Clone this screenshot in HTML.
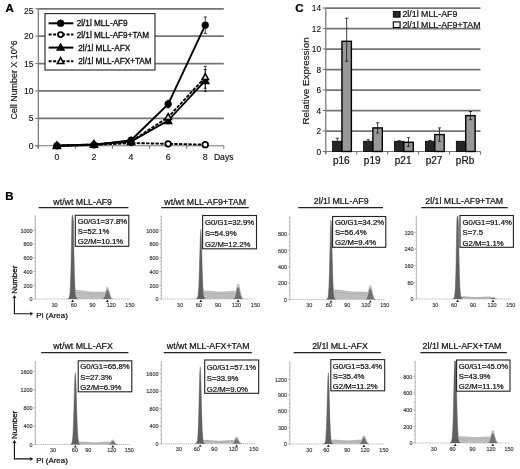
<!DOCTYPE html>
<html><head><meta charset="utf-8"><title>Figure</title>
<style>
html,body{margin:0;padding:0;background:#fff;}
svg{display:block;font-family:"Liberation Sans", Arial, sans-serif;will-change:transform;}
</style></head><body>
<svg width="520" height="469" viewBox="0 0 520 469">
<defs>
<pattern id="hatch" width="1.6" height="1.6" patternUnits="userSpaceOnUse">
<rect width="1.6" height="1.6" fill="#c9c9c9"/>
<rect width="0.7" height="0.7" fill="#a8a8a8"/>
</pattern>
</defs>
<rect width="520" height="469" fill="#fff"/>
<text x="5.60" y="12.20" font-size="11.5" text-anchor="start" font-weight="bold" fill="#000" stroke="#000" stroke-width="0.22" >A</text>
<line x1="38.30" y1="118.35" x2="223.80" y2="118.35" stroke="#747474" stroke-width="1.75" />
<line x1="38.30" y1="90.95" x2="223.80" y2="90.95" stroke="#747474" stroke-width="1.75" />
<line x1="38.30" y1="63.55" x2="223.80" y2="63.55" stroke="#747474" stroke-width="1.75" />
<line x1="38.30" y1="36.15" x2="223.80" y2="36.15" stroke="#747474" stroke-width="1.75" />
<line x1="38.30" y1="8.75" x2="223.80" y2="8.75" stroke="#747474" stroke-width="1.75" />
<line x1="38.30" y1="8.75" x2="38.30" y2="148.25" stroke="#747474" stroke-width="1.2" />
<line x1="35.30" y1="145.75" x2="223.80" y2="145.75" stroke="#747474" stroke-width="1.2" />
<line x1="35.30" y1="145.75" x2="38.30" y2="145.75" stroke="#747474" stroke-width="1.1" />
<text x="33.60" y="148.85" font-size="8.6" text-anchor="end" font-weight="normal" fill="#111" stroke="#111" stroke-width="0.12" >0</text>
<line x1="35.30" y1="118.35" x2="38.30" y2="118.35" stroke="#747474" stroke-width="1.1" />
<text x="33.60" y="121.45" font-size="8.6" text-anchor="end" font-weight="normal" fill="#111" stroke="#111" stroke-width="0.12" >5</text>
<line x1="35.30" y1="90.95" x2="38.30" y2="90.95" stroke="#747474" stroke-width="1.1" />
<text x="33.60" y="94.05" font-size="8.6" text-anchor="end" font-weight="normal" fill="#111" stroke="#111" stroke-width="0.12" >10</text>
<line x1="35.30" y1="63.55" x2="38.30" y2="63.55" stroke="#747474" stroke-width="1.1" />
<text x="33.60" y="66.65" font-size="8.6" text-anchor="end" font-weight="normal" fill="#111" stroke="#111" stroke-width="0.12" >15</text>
<line x1="35.30" y1="36.15" x2="38.30" y2="36.15" stroke="#747474" stroke-width="1.1" />
<text x="33.60" y="39.25" font-size="8.6" text-anchor="end" font-weight="normal" fill="#111" stroke="#111" stroke-width="0.12" >20</text>
<line x1="35.30" y1="8.75" x2="38.30" y2="8.75" stroke="#747474" stroke-width="1.1" />
<text x="33.60" y="13.85" font-size="8.6" text-anchor="end" font-weight="normal" fill="#111" stroke="#111" stroke-width="0.12" >25</text>
<line x1="38.30" y1="145.75" x2="38.30" y2="148.75" stroke="#747474" stroke-width="1.1" />
<line x1="75.40" y1="145.75" x2="75.40" y2="148.75" stroke="#747474" stroke-width="1.1" />
<line x1="112.50" y1="145.75" x2="112.50" y2="148.75" stroke="#747474" stroke-width="1.1" />
<line x1="149.60" y1="145.75" x2="149.60" y2="148.75" stroke="#747474" stroke-width="1.1" />
<line x1="186.70" y1="145.75" x2="186.70" y2="148.75" stroke="#747474" stroke-width="1.1" />
<line x1="223.80" y1="145.75" x2="223.80" y2="148.75" stroke="#747474" stroke-width="1.1" />
<text x="56.85" y="160.30" font-size="8.8" text-anchor="middle" font-weight="normal" fill="#111" stroke="#111" stroke-width="0.12" >0</text>
<text x="93.95" y="160.30" font-size="8.8" text-anchor="middle" font-weight="normal" fill="#111" stroke="#111" stroke-width="0.12" >2</text>
<text x="131.05" y="160.30" font-size="8.8" text-anchor="middle" font-weight="normal" fill="#111" stroke="#111" stroke-width="0.12" >4</text>
<text x="168.15" y="160.30" font-size="8.8" text-anchor="middle" font-weight="normal" fill="#111" stroke="#111" stroke-width="0.12" >6</text>
<text x="205.25" y="160.30" font-size="8.8" text-anchor="middle" font-weight="normal" fill="#111" stroke="#111" stroke-width="0.12" >8</text>
<text x="213.90" y="160.30" font-size="8.6" text-anchor="start" font-weight="normal" fill="#111" stroke="#111" stroke-width="0.15" >Days</text>
<text transform="translate(17.4,79.9) rotate(-90)" font-size="8.9" text-anchor="middle" fill="#111" stroke="#111" stroke-width="0.15">Cell Number X 10^6</text>
<line x1="131.05" y1="141.37" x2="131.05" y2="139.17" stroke="#111" stroke-width="0.8" />
<line x1="129.45" y1="141.37" x2="132.65" y2="141.37" stroke="#111" stroke-width="0.8" />
<line x1="129.45" y1="139.17" x2="132.65" y2="139.17" stroke="#111" stroke-width="0.8" />
<line x1="168.15" y1="107.94" x2="168.15" y2="100.27" stroke="#111" stroke-width="0.8" />
<line x1="166.55" y1="107.94" x2="169.75" y2="107.94" stroke="#111" stroke-width="0.8" />
<line x1="166.55" y1="100.27" x2="169.75" y2="100.27" stroke="#111" stroke-width="0.8" />
<line x1="205.25" y1="33.41" x2="205.25" y2="16.97" stroke="#111" stroke-width="0.8" />
<line x1="203.65" y1="33.41" x2="206.85" y2="33.41" stroke="#111" stroke-width="0.8" />
<line x1="203.65" y1="16.97" x2="206.85" y2="16.97" stroke="#111" stroke-width="0.8" />
<line x1="131.05" y1="142.19" x2="131.05" y2="141.09" stroke="#111" stroke-width="0.8" />
<line x1="129.45" y1="142.19" x2="132.65" y2="142.19" stroke="#111" stroke-width="0.8" />
<line x1="129.45" y1="141.09" x2="132.65" y2="141.09" stroke="#111" stroke-width="0.8" />
<line x1="168.15" y1="123.83" x2="168.15" y2="117.25" stroke="#111" stroke-width="0.8" />
<line x1="166.55" y1="123.83" x2="169.75" y2="123.83" stroke="#111" stroke-width="0.8" />
<line x1="166.55" y1="117.25" x2="169.75" y2="117.25" stroke="#111" stroke-width="0.8" />
<line x1="205.25" y1="91.50" x2="205.25" y2="69.58" stroke="#111" stroke-width="0.8" />
<line x1="203.65" y1="91.50" x2="206.85" y2="91.50" stroke="#111" stroke-width="0.8" />
<line x1="203.65" y1="69.58" x2="206.85" y2="69.58" stroke="#111" stroke-width="0.8" />
<line x1="131.05" y1="141.91" x2="131.05" y2="140.82" stroke="#111" stroke-width="0.8" />
<line x1="129.45" y1="141.91" x2="132.65" y2="141.91" stroke="#111" stroke-width="0.8" />
<line x1="129.45" y1="140.82" x2="132.65" y2="140.82" stroke="#111" stroke-width="0.8" />
<line x1="168.15" y1="119.99" x2="168.15" y2="114.51" stroke="#111" stroke-width="0.8" />
<line x1="166.55" y1="119.99" x2="169.75" y2="119.99" stroke="#111" stroke-width="0.8" />
<line x1="166.55" y1="114.51" x2="169.75" y2="114.51" stroke="#111" stroke-width="0.8" />
<line x1="205.25" y1="88.21" x2="205.25" y2="66.29" stroke="#111" stroke-width="0.8" />
<line x1="203.65" y1="88.21" x2="206.85" y2="88.21" stroke="#111" stroke-width="0.8" />
<line x1="203.65" y1="66.29" x2="206.85" y2="66.29" stroke="#111" stroke-width="0.8" />
<polyline points="56.85,145.75 93.95,144.93 131.05,143.01 168.15,143.83 205.25,144.65" fill="none" stroke="#000" stroke-width="1.9" stroke-dasharray="3.4 1.3"/>
<polyline points="56.85,145.75 93.95,144.38 131.05,141.64 168.15,120.54 205.25,80.54" fill="none" stroke="#000" stroke-width="1.8" />
<polyline points="56.85,145.75 93.95,144.38 131.05,141.37 168.15,117.25 205.25,77.25" fill="none" stroke="#000" stroke-width="1.9" stroke-dasharray="3.4 1.3"/>
<polyline points="56.85,145.75 93.95,144.93 131.05,140.27 168.15,104.10 205.25,25.19" fill="none" stroke="#000" stroke-width="1.9" />
<polygon points="56.85,142.05 53.15,148.71 60.55,148.71" fill="#000" stroke="#000" stroke-width="1.3" stroke-linejoin="miter"/>
<polygon points="93.95,140.68 90.25,147.34 97.65,147.34" fill="#000" stroke="#000" stroke-width="1.3" stroke-linejoin="miter"/>
<polygon points="131.05,137.94 127.35,144.60 134.75,144.60" fill="#000" stroke="#000" stroke-width="1.3" stroke-linejoin="miter"/>
<polygon points="168.15,116.84 164.45,123.50 171.85,123.50" fill="#000" stroke="#000" stroke-width="1.3" stroke-linejoin="miter"/>
<polygon points="205.25,76.84 201.55,83.50 208.95,83.50" fill="#000" stroke="#000" stroke-width="1.3" stroke-linejoin="miter"/>
<polygon points="56.85,142.05 53.55,147.99 60.15,147.99" fill="#000" stroke="#000" stroke-width="1.5" stroke-linejoin="miter"/>
<polygon points="93.95,140.68 90.65,146.62 97.25,146.62" fill="#000" stroke="#000" stroke-width="1.5" stroke-linejoin="miter"/>
<polygon points="131.05,137.67 127.75,143.61 134.35,143.61" fill="#000" stroke="#000" stroke-width="1.5" stroke-linejoin="miter"/>
<polygon points="168.15,113.55 164.85,119.49 171.45,119.49" fill="#d8d8d8" stroke="#000" stroke-width="1.5" stroke-linejoin="miter"/>
<polygon points="205.25,73.55 201.95,79.49 208.55,79.49" fill="#d8d8d8" stroke="#000" stroke-width="1.5" stroke-linejoin="miter"/>
<circle cx="56.85" cy="145.75" r="3.4" fill="#000" stroke="#000" stroke-width="0.5"/>
<circle cx="93.95" cy="144.93" r="3.4" fill="#000" stroke="#000" stroke-width="0.5"/>
<circle cx="131.05" cy="140.27" r="3.4" fill="#000" stroke="#000" stroke-width="0.5"/>
<circle cx="168.15" cy="104.10" r="3.4" fill="#000" stroke="#000" stroke-width="0.5"/>
<circle cx="205.25" cy="25.19" r="3.4" fill="#000" stroke="#000" stroke-width="0.5"/>
<circle cx="56.85" cy="145.75" r="2.8" fill="#000" stroke="#000" stroke-width="0.5"/>
<circle cx="93.95" cy="144.93" r="2.8" fill="#000" stroke="#000" stroke-width="0.5"/>
<circle cx="131.05" cy="143.01" r="2.8" fill="#000" stroke="#000" stroke-width="0.5"/>
<circle cx="168.15" cy="143.83" r="2.8" fill="#fff" stroke="#000" stroke-width="1.8"/>
<circle cx="205.25" cy="144.65" r="2.8" fill="#fff" stroke="#000" stroke-width="1.8"/>
<rect x="45" y="13.6" width="110" height="56.4" fill="#fff" stroke="#222" stroke-width="1.1"/>
<line x1="48.60" y1="23.30" x2="73.40" y2="23.30" stroke="#000" stroke-width="2.0" />
<circle cx="60.60" cy="23.30" r="3.5" fill="#000" stroke="#000" stroke-width="0.5"/>
<text x="76.70" y="26.30" font-size="8.2" text-anchor="start" font-weight="normal" fill="#111" stroke="#111" stroke-width="0.32" >2l/1l MLL-AF9</text>
<line x1="48.60" y1="34.60" x2="73.40" y2="34.60" stroke="#000" stroke-width="2.0" stroke-dasharray="3 1.5"/>
<circle cx="60.6" cy="34.6" r="2.6" fill="#fff" stroke="#000" stroke-width="1.7"/>
<text x="76.70" y="37.60" font-size="8.2" text-anchor="start" font-weight="normal" fill="#111" stroke="#111" stroke-width="0.32" >2l/1l MLL-AF9+TAM</text>
<line x1="48.60" y1="47.60" x2="73.40" y2="47.60" stroke="#000" stroke-width="2.0" />
<polygon points="60.60,43.80 57.10,50.10 64.10,50.10" fill="#000" stroke="#000" stroke-width="1.3" stroke-linejoin="miter"/>
<text x="78.30" y="50.60" font-size="8.2" text-anchor="start" font-weight="normal" fill="#111" stroke="#111" stroke-width="0.32" >2l/1l MLL-AFX</text>
<line x1="48.60" y1="61.20" x2="73.40" y2="61.20" stroke="#000" stroke-width="2.0" stroke-dasharray="3 1.5"/>
<polygon points="60.60,57.70 57.40,63.46 63.80,63.46" fill="#fff" stroke="#000" stroke-width="1.6" stroke-linejoin="miter"/>
<text x="78.30" y="64.20" font-size="8.2" text-anchor="start" font-weight="normal" fill="#111" stroke="#111" stroke-width="0.32" >2l/1l MLL-AFX+TAM</text>
<text x="295.20" y="12.20" font-size="11.5" text-anchor="start" font-weight="bold" fill="#000" stroke="#000" stroke-width="0.22" >C</text>
<line x1="325.80" y1="131.00" x2="480.50" y2="131.00" stroke="#747474" stroke-width="1.75" />
<line x1="325.80" y1="110.50" x2="480.50" y2="110.50" stroke="#747474" stroke-width="1.75" />
<line x1="325.80" y1="90.00" x2="480.50" y2="90.00" stroke="#747474" stroke-width="1.75" />
<line x1="325.80" y1="69.50" x2="480.50" y2="69.50" stroke="#747474" stroke-width="1.75" />
<line x1="325.80" y1="49.00" x2="480.50" y2="49.00" stroke="#747474" stroke-width="1.75" />
<line x1="325.80" y1="28.50" x2="480.50" y2="28.50" stroke="#747474" stroke-width="1.75" />
<line x1="325.80" y1="8.00" x2="480.50" y2="8.00" stroke="#747474" stroke-width="1.75" />
<line x1="325.80" y1="8.00" x2="325.80" y2="154.00" stroke="#747474" stroke-width="1.2" />
<line x1="322.80" y1="151.50" x2="480.50" y2="151.50" stroke="#747474" stroke-width="1.2" />
<line x1="322.80" y1="151.50" x2="325.80" y2="151.50" stroke="#747474" stroke-width="1.1" />
<text x="321.00" y="154.50" font-size="8.3" text-anchor="end" font-weight="normal" fill="#111" stroke="#111" stroke-width="0.12" >0</text>
<line x1="322.80" y1="131.00" x2="325.80" y2="131.00" stroke="#747474" stroke-width="1.1" />
<text x="321.00" y="134.00" font-size="8.3" text-anchor="end" font-weight="normal" fill="#111" stroke="#111" stroke-width="0.12" >2</text>
<line x1="322.80" y1="110.50" x2="325.80" y2="110.50" stroke="#747474" stroke-width="1.1" />
<text x="321.00" y="113.50" font-size="8.3" text-anchor="end" font-weight="normal" fill="#111" stroke="#111" stroke-width="0.12" >4</text>
<line x1="322.80" y1="90.00" x2="325.80" y2="90.00" stroke="#747474" stroke-width="1.1" />
<text x="321.00" y="93.00" font-size="8.3" text-anchor="end" font-weight="normal" fill="#111" stroke="#111" stroke-width="0.12" >6</text>
<line x1="322.80" y1="69.50" x2="325.80" y2="69.50" stroke="#747474" stroke-width="1.1" />
<text x="321.00" y="72.50" font-size="8.3" text-anchor="end" font-weight="normal" fill="#111" stroke="#111" stroke-width="0.12" >8</text>
<line x1="322.80" y1="49.00" x2="325.80" y2="49.00" stroke="#747474" stroke-width="1.1" />
<text x="321.00" y="52.00" font-size="8.3" text-anchor="end" font-weight="normal" fill="#111" stroke="#111" stroke-width="0.12" >10</text>
<line x1="322.80" y1="28.50" x2="325.80" y2="28.50" stroke="#747474" stroke-width="1.1" />
<text x="321.00" y="31.50" font-size="8.3" text-anchor="end" font-weight="normal" fill="#111" stroke="#111" stroke-width="0.12" >12</text>
<line x1="322.80" y1="8.00" x2="325.80" y2="8.00" stroke="#747474" stroke-width="1.1" />
<text x="321.00" y="11.00" font-size="8.3" text-anchor="end" font-weight="normal" fill="#111" stroke="#111" stroke-width="0.12" >14</text>
<line x1="325.80" y1="151.50" x2="325.80" y2="154.50" stroke="#747474" stroke-width="1.1" />
<line x1="356.74" y1="151.50" x2="356.74" y2="154.50" stroke="#747474" stroke-width="1.1" />
<line x1="387.68" y1="151.50" x2="387.68" y2="154.50" stroke="#747474" stroke-width="1.1" />
<line x1="418.62" y1="151.50" x2="418.62" y2="154.50" stroke="#747474" stroke-width="1.1" />
<line x1="449.56" y1="151.50" x2="449.56" y2="154.50" stroke="#747474" stroke-width="1.1" />
<line x1="480.50" y1="151.50" x2="480.50" y2="154.50" stroke="#747474" stroke-width="1.1" />
<rect x="332.57" y="141.25" width="9.4" height="10.25" fill="#262626" stroke="#000" stroke-width="0.8"/>
<rect x="341.97" y="41.31" width="9.4" height="110.19" fill="#999" stroke="#000" stroke-width="1.4"/>
<line x1="346.67" y1="61.30" x2="346.67" y2="18.25" stroke="#111" stroke-width="0.8" />
<line x1="345.07" y1="61.30" x2="348.27" y2="61.30" stroke="#111" stroke-width="0.8" />
<line x1="345.07" y1="18.25" x2="348.27" y2="18.25" stroke="#111" stroke-width="0.8" />
<line x1="337.27" y1="141.25" x2="337.27" y2="138.18" stroke="#111" stroke-width="0.8" />
<line x1="335.67" y1="138.18" x2="338.87" y2="138.18" stroke="#111" stroke-width="0.8" />
<text x="341.27" y="163.60" font-size="10" text-anchor="middle" font-weight="normal" fill="#111" stroke="#111" stroke-width="0.22" >p16</text>
<rect x="363.51" y="141.25" width="9.4" height="10.25" fill="#262626" stroke="#000" stroke-width="0.8"/>
<rect x="372.91" y="127.92" width="9.4" height="23.58" fill="#999" stroke="#000" stroke-width="1.4"/>
<line x1="377.61" y1="133.05" x2="377.61" y2="122.80" stroke="#111" stroke-width="0.8" />
<line x1="376.01" y1="133.05" x2="379.21" y2="133.05" stroke="#111" stroke-width="0.8" />
<line x1="376.01" y1="122.80" x2="379.21" y2="122.80" stroke="#111" stroke-width="0.8" />
<line x1="368.21" y1="141.25" x2="368.21" y2="139.71" stroke="#111" stroke-width="0.8" />
<line x1="366.61" y1="139.71" x2="369.81" y2="139.71" stroke="#111" stroke-width="0.8" />
<text x="372.21" y="163.60" font-size="10" text-anchor="middle" font-weight="normal" fill="#111" stroke="#111" stroke-width="0.22" >p19</text>
<rect x="394.45" y="141.25" width="9.4" height="10.25" fill="#262626" stroke="#000" stroke-width="0.8"/>
<rect x="403.85" y="142.28" width="9.4" height="9.22" fill="#999" stroke="#000" stroke-width="1.4"/>
<line x1="408.55" y1="146.38" x2="408.55" y2="137.66" stroke="#111" stroke-width="0.8" />
<line x1="406.95" y1="146.38" x2="410.15" y2="146.38" stroke="#111" stroke-width="0.8" />
<line x1="406.95" y1="137.66" x2="410.15" y2="137.66" stroke="#111" stroke-width="0.8" />
<line x1="399.15" y1="141.25" x2="399.15" y2="140.74" stroke="#111" stroke-width="0.8" />
<line x1="397.55" y1="140.74" x2="400.75" y2="140.74" stroke="#111" stroke-width="0.8" />
<text x="403.15" y="163.60" font-size="10" text-anchor="middle" font-weight="normal" fill="#111" stroke="#111" stroke-width="0.22" >p21</text>
<rect x="425.39" y="141.25" width="9.4" height="10.25" fill="#262626" stroke="#000" stroke-width="0.8"/>
<rect x="434.79" y="134.59" width="9.4" height="16.91" fill="#999" stroke="#000" stroke-width="1.4"/>
<line x1="439.49" y1="141.25" x2="439.49" y2="127.92" stroke="#111" stroke-width="0.8" />
<line x1="437.89" y1="141.25" x2="441.09" y2="141.25" stroke="#111" stroke-width="0.8" />
<line x1="437.89" y1="127.92" x2="441.09" y2="127.92" stroke="#111" stroke-width="0.8" />
<line x1="430.09" y1="141.25" x2="430.09" y2="140.43" stroke="#111" stroke-width="0.8" />
<line x1="428.49" y1="140.43" x2="431.69" y2="140.43" stroke="#111" stroke-width="0.8" />
<text x="434.09" y="163.60" font-size="10" text-anchor="middle" font-weight="normal" fill="#111" stroke="#111" stroke-width="0.22" >p27</text>
<rect x="456.33" y="141.25" width="9.4" height="10.25" fill="#262626" stroke="#000" stroke-width="0.8"/>
<rect x="465.73" y="115.62" width="9.4" height="35.88" fill="#999" stroke="#000" stroke-width="1.4"/>
<line x1="470.43" y1="119.72" x2="470.43" y2="111.53" stroke="#111" stroke-width="0.8" />
<line x1="468.83" y1="119.72" x2="472.03" y2="119.72" stroke="#111" stroke-width="0.8" />
<line x1="468.83" y1="111.53" x2="472.03" y2="111.53" stroke="#111" stroke-width="0.8" />
<text x="465.03" y="163.60" font-size="10" text-anchor="middle" font-weight="normal" fill="#111" stroke="#111" stroke-width="0.22" >pRb</text>
<text transform="translate(309.2,80.9) rotate(-90)" font-size="9.9" text-anchor="middle" fill="#111" stroke="#111" stroke-width="0.15">Relative Expression</text>
<rect x="393.3" y="11.4" width="6.8" height="5.8" fill="#262626" stroke="#000" stroke-width="0.9"/>
<rect x="393.3" y="21.9" width="6.8" height="5.6" fill="#f4f4f4" stroke="#000" stroke-width="1.1"/>
<text x="402.40" y="16.80" font-size="8.85" text-anchor="start" font-weight="normal" fill="#111" stroke="#111" stroke-width="0.22" >2l/1l MLL-AF9</text>
<text x="402.40" y="27.50" font-size="8.85" text-anchor="start" font-weight="normal" fill="#111" stroke="#111" stroke-width="0.22" >2l/1l MLL-AF9+TAM</text>
<text x="5.20" y="199.60" font-size="11.5" text-anchor="start" font-weight="bold" fill="#000" stroke="#000" stroke-width="0.22" >B</text>
<text x="82.70" y="204.60" font-size="8.8" text-anchor="middle" font-weight="normal" fill="#111" stroke="#111" stroke-width="0.22" >wt/wt MLL-AF9</text>
<line x1="38.60" y1="207.70" x2="128.40" y2="207.70" stroke="#222" stroke-width="1.2" />
<line x1="35.40" y1="215.40" x2="35.40" y2="299.00" stroke="#9a9a9a" stroke-width="0.7" />
<line x1="35.40" y1="299.00" x2="130.00" y2="299.00" stroke="#9a9a9a" stroke-width="0.7" stroke-dasharray="1.2 0.7"/>
<line x1="34.30" y1="299.00" x2="35.40" y2="299.00" stroke="#9a9a9a" stroke-width="0.5" />
<line x1="34.30" y1="295.56" x2="35.40" y2="295.56" stroke="#9a9a9a" stroke-width="0.5" />
<line x1="34.30" y1="292.12" x2="35.40" y2="292.12" stroke="#9a9a9a" stroke-width="0.5" />
<line x1="34.30" y1="288.69" x2="35.40" y2="288.69" stroke="#9a9a9a" stroke-width="0.5" />
<line x1="34.30" y1="285.25" x2="35.40" y2="285.25" stroke="#9a9a9a" stroke-width="0.5" />
<line x1="34.30" y1="281.81" x2="35.40" y2="281.81" stroke="#9a9a9a" stroke-width="0.5" />
<line x1="34.30" y1="278.38" x2="35.40" y2="278.38" stroke="#9a9a9a" stroke-width="0.5" />
<line x1="34.30" y1="274.94" x2="35.40" y2="274.94" stroke="#9a9a9a" stroke-width="0.5" />
<line x1="34.30" y1="271.50" x2="35.40" y2="271.50" stroke="#9a9a9a" stroke-width="0.5" />
<line x1="34.30" y1="268.06" x2="35.40" y2="268.06" stroke="#9a9a9a" stroke-width="0.5" />
<line x1="34.30" y1="264.62" x2="35.40" y2="264.62" stroke="#9a9a9a" stroke-width="0.5" />
<line x1="34.30" y1="261.19" x2="35.40" y2="261.19" stroke="#9a9a9a" stroke-width="0.5" />
<line x1="34.30" y1="257.75" x2="35.40" y2="257.75" stroke="#9a9a9a" stroke-width="0.5" />
<line x1="34.30" y1="254.31" x2="35.40" y2="254.31" stroke="#9a9a9a" stroke-width="0.5" />
<line x1="34.30" y1="250.88" x2="35.40" y2="250.88" stroke="#9a9a9a" stroke-width="0.5" />
<line x1="34.30" y1="247.44" x2="35.40" y2="247.44" stroke="#9a9a9a" stroke-width="0.5" />
<line x1="34.30" y1="244.00" x2="35.40" y2="244.00" stroke="#9a9a9a" stroke-width="0.5" />
<line x1="34.30" y1="240.56" x2="35.40" y2="240.56" stroke="#9a9a9a" stroke-width="0.5" />
<line x1="34.30" y1="237.12" x2="35.40" y2="237.12" stroke="#9a9a9a" stroke-width="0.5" />
<line x1="34.30" y1="233.69" x2="35.40" y2="233.69" stroke="#9a9a9a" stroke-width="0.5" />
<line x1="34.30" y1="230.25" x2="35.40" y2="230.25" stroke="#9a9a9a" stroke-width="0.5" />
<line x1="34.30" y1="226.81" x2="35.40" y2="226.81" stroke="#9a9a9a" stroke-width="0.5" />
<line x1="34.30" y1="223.38" x2="35.40" y2="223.38" stroke="#9a9a9a" stroke-width="0.5" />
<line x1="34.30" y1="219.94" x2="35.40" y2="219.94" stroke="#9a9a9a" stroke-width="0.5" />
<line x1="34.30" y1="216.50" x2="35.40" y2="216.50" stroke="#9a9a9a" stroke-width="0.5" />
<line x1="33.40" y1="230.30" x2="35.40" y2="230.30" stroke="#9a9a9a" stroke-width="0.6" />
<text x="32.60" y="232.50" font-size="6.2" text-anchor="end" font-weight="normal" fill="#333" stroke="#333" stroke-width="0.15" textLength="12.2" lengthAdjust="spacingAndGlyphs">1000</text>
<line x1="33.40" y1="244.10" x2="35.40" y2="244.10" stroke="#9a9a9a" stroke-width="0.6" />
<text x="32.60" y="246.30" font-size="6.2" text-anchor="end" font-weight="normal" fill="#333" stroke="#333" stroke-width="0.15" textLength="9.1" lengthAdjust="spacingAndGlyphs">800</text>
<line x1="33.40" y1="257.80" x2="35.40" y2="257.80" stroke="#9a9a9a" stroke-width="0.6" />
<text x="32.60" y="260.00" font-size="6.2" text-anchor="end" font-weight="normal" fill="#333" stroke="#333" stroke-width="0.15" textLength="9.1" lengthAdjust="spacingAndGlyphs">600</text>
<line x1="33.40" y1="271.50" x2="35.40" y2="271.50" stroke="#9a9a9a" stroke-width="0.6" />
<text x="32.60" y="273.70" font-size="6.2" text-anchor="end" font-weight="normal" fill="#333" stroke="#333" stroke-width="0.15" textLength="9.1" lengthAdjust="spacingAndGlyphs">400</text>
<line x1="33.40" y1="285.30" x2="35.40" y2="285.30" stroke="#9a9a9a" stroke-width="0.6" />
<text x="32.60" y="287.50" font-size="6.2" text-anchor="end" font-weight="normal" fill="#333" stroke="#333" stroke-width="0.15" textLength="9.1" lengthAdjust="spacingAndGlyphs">200</text>
<line x1="33.40" y1="299.00" x2="35.40" y2="299.00" stroke="#9a9a9a" stroke-width="0.6" />
<text x="32.60" y="301.20" font-size="6.2" text-anchor="end" font-weight="normal" fill="#333" stroke="#333" stroke-width="0.15" textLength="3.0" lengthAdjust="spacingAndGlyphs">0</text>
<text x="54.60" y="306.60" font-size="6.2" text-anchor="middle" font-weight="normal" fill="#333" stroke="#333" stroke-width="0.15" textLength="6.1" lengthAdjust="spacingAndGlyphs">30</text>
<text x="73.70" y="306.60" font-size="6.2" text-anchor="middle" font-weight="normal" fill="#333" stroke="#333" stroke-width="0.15" textLength="6.1" lengthAdjust="spacingAndGlyphs">60</text>
<text x="92.50" y="306.60" font-size="6.2" text-anchor="middle" font-weight="normal" fill="#333" stroke="#333" stroke-width="0.15" textLength="6.1" lengthAdjust="spacingAndGlyphs">90</text>
<text x="111.20" y="306.60" font-size="6.2" text-anchor="middle" font-weight="normal" fill="#333" stroke="#333" stroke-width="0.15" textLength="9.1" lengthAdjust="spacingAndGlyphs">120</text>
<text x="129.90" y="306.60" font-size="6.2" text-anchor="middle" font-weight="normal" fill="#333" stroke="#333" stroke-width="0.15" textLength="9.1" lengthAdjust="spacingAndGlyphs">150</text>
<path d="M67.6,299.0 L67.9,298.8 L68.4,298.6 L68.9,298.1 L69.4,297.0 L69.9,293.9 L70.4,286.1 L70.9,270.4 L71.4,245.8 L71.9,218.5 L72.4,215.4 L72.9,215.4 L73.4,223.1 L73.9,250.4 L74.4,273.4 L74.9,287.3 L75.4,290.6 L75.9,290.6 L76.4,290.6 L76.9,290.6 L77.4,290.6 L77.9,290.6 L78.4,290.7 L78.9,290.7 L79.4,290.7 L79.9,290.8 L80.4,290.8 L80.9,290.9 L81.4,290.9 L81.9,291.0 L82.4,291.1 L82.9,291.1 L83.4,291.2 L83.9,291.3 L84.4,291.4 L84.9,291.4 L85.4,291.5 L85.9,291.6 L86.4,291.7 L86.9,291.7 L87.4,291.8 L87.9,291.9 L88.4,291.9 L88.9,292.0 L89.4,292.0 L89.9,292.1 L90.4,292.1 L90.9,292.1 L91.4,292.2 L91.9,292.2 L92.4,292.2 L92.9,292.2 L93.4,292.2 L93.9,292.2 L94.4,292.2 L94.9,292.2 L95.4,292.2 L95.9,292.2 L96.4,292.2 L96.9,292.2 L97.4,292.2 L97.9,292.2 L98.4,292.2 L98.9,292.2 L99.4,292.2 L99.9,292.2 L100.4,292.2 L100.9,292.2 L101.4,292.2 L101.9,292.2 L102.4,292.3 L102.9,292.3 L103.4,292.3 L103.9,292.4 L104.4,292.4 L104.9,292.5 L105.4,292.5 L105.9,290.9 L106.4,289.0 L106.9,287.7 L107.4,287.2 L107.9,287.7 L108.4,289.0 L108.9,290.9 L109.4,292.9 L109.9,294.7 L110.4,296.1 L110.9,297.1 L111.4,297.8 L111.9,298.7 L112.4,298.9 L112.7,299.0 Z" fill="#dedede"/>
<path d="M67.6,299.0 L67.9,298.8 L68.4,298.6 L68.9,298.1 L69.4,297.0 L69.9,293.9 L70.4,286.1 L70.9,270.4 L71.4,245.8 L71.9,218.5 L72.4,215.4 L72.9,215.4 L73.4,223.1 L73.9,250.4 L74.4,273.4 L74.9,287.3 L75.4,290.6 L75.9,290.6 L76.4,290.6 L76.9,290.6 L77.4,290.6 L77.9,290.6 L78.4,290.7 L78.9,290.7 L79.4,290.7 L79.9,290.8 L80.4,290.8 L80.9,290.9 L81.4,290.9 L81.9,291.0 L82.4,291.1 L82.9,291.1 L83.4,291.2 L83.9,291.3 L84.4,291.4 L84.9,291.4 L85.4,291.5 L85.9,291.6 L86.4,291.7 L86.9,291.7 L87.4,291.8 L87.9,291.9 L88.4,291.9 L88.9,292.0 L89.4,292.0 L89.9,292.1 L90.4,292.1 L90.9,292.1 L91.4,292.2 L91.9,292.2 L92.4,292.2 L92.9,292.2 L93.4,292.2 L93.9,292.2 L94.4,292.2 L94.9,292.2 L95.4,292.2 L95.9,292.2 L96.4,292.2 L96.9,292.2 L97.4,292.2 L97.9,292.2 L98.4,292.2 L98.9,292.2 L99.4,292.2 L99.9,292.2 L100.4,292.2 L100.9,292.2 L101.4,292.2 L101.9,292.2 L102.4,292.3 L102.9,292.3 L103.4,292.3 L103.9,292.4 L104.4,292.4 L104.9,292.5 L105.4,292.5 L105.9,290.9 L106.4,289.0 L106.9,287.7 L107.4,287.2 L107.9,287.7 L108.4,289.0 L108.9,290.9 L109.4,292.9 L109.9,294.7 L110.4,296.1 L110.9,297.1 L111.4,297.8 L111.9,298.7 L112.4,298.9 L112.7,299.0" fill="none" stroke="#6e6e6e" stroke-width="0.5"/>
<path d="M72.6,299.0 L72.9,297.6 L73.4,295.3 L73.9,292.9 L74.4,292.0 L74.9,292.0 L75.4,292.0 L75.9,292.0 L76.4,292.0 L76.9,292.0 L77.4,292.0 L77.9,292.0 L78.4,292.1 L78.9,292.1 L79.4,292.1 L79.9,292.2 L80.4,292.2 L80.9,292.2 L81.4,292.3 L81.9,292.4 L82.4,292.4 L82.9,292.5 L83.4,292.5 L83.9,292.6 L84.4,292.7 L84.9,292.8 L85.4,292.8 L85.9,292.9 L86.4,293.0 L86.9,293.0 L87.4,293.1 L87.9,293.1 L88.4,293.2 L88.9,293.2 L89.4,293.3 L89.9,293.3 L90.4,293.4 L90.9,293.4 L91.4,293.4 L91.9,293.5 L92.4,293.5 L92.9,293.5 L93.4,293.5 L93.9,293.5 L94.4,293.5 L94.9,293.5 L95.4,293.5 L95.9,293.5 L96.4,293.5 L96.9,293.5 L97.4,293.5 L97.9,293.4 L98.4,293.4 L98.9,293.4 L99.4,293.4 L99.9,293.4 L100.4,293.4 L100.9,293.4 L101.4,293.5 L101.9,293.5 L102.4,293.5 L102.9,293.5 L103.4,293.6 L103.9,293.6 L104.4,293.6 L104.9,293.7 L105.4,293.7 L105.9,295.1 L106.4,296.4 L106.9,297.7 L107.2,299.0 Z" fill="#bcbcbc"/>
<path d="M72.6,299.0 L72.9,297.6 L73.4,295.3 L73.9,292.9 L74.4,292.0 L74.9,292.0 L75.4,292.0 L75.9,292.0 L76.4,292.0 L76.9,292.0 L77.4,292.0 L77.9,292.0 L78.4,292.1 L78.9,292.1 L79.4,292.1 L79.9,292.2 L80.4,292.2 L80.9,292.2 L81.4,292.3 L81.9,292.4 L82.4,292.4 L82.9,292.5 L83.4,292.5 L83.9,292.6 L84.4,292.7 L84.9,292.8 L85.4,292.8 L85.9,292.9 L86.4,293.0 L86.9,293.0 L87.4,293.1 L87.9,293.1 L88.4,293.2 L88.9,293.2 L89.4,293.3 L89.9,293.3 L90.4,293.4 L90.9,293.4 L91.4,293.4 L91.9,293.5 L92.4,293.5 L92.9,293.5 L93.4,293.5 L93.9,293.5 L94.4,293.5 L94.9,293.5 L95.4,293.5 L95.9,293.5 L96.4,293.5 L96.9,293.5 L97.4,293.5 L97.9,293.4 L98.4,293.4 L98.9,293.4 L99.4,293.4 L99.9,293.4 L100.4,293.4 L100.9,293.4 L101.4,293.5 L101.9,293.5 L102.4,293.5 L102.9,293.5 L103.4,293.6 L103.9,293.6 L104.4,293.6 L104.9,293.7 L105.4,293.7 L105.9,295.1 L106.4,296.4 L106.9,297.7 L107.2,299.0" fill="none" stroke="#8a8a8a" stroke-width="0.4"/>
<path d="M67.6,299.0 L67.9,298.8 L68.4,298.6 L68.9,298.1 L69.4,297.0 L69.9,293.9 L70.4,286.1 L70.9,270.4 L71.4,245.8 L71.9,218.5 L72.4,215.4 L72.9,215.4 L73.4,223.1 L73.9,250.4 L74.4,273.4 L74.9,287.3 L75.4,294.0 L75.9,296.7 L76.4,297.8 L76.9,298.3 L77.4,298.6 L77.9,298.8 L78.2,299.0 Z" fill="#606060"/>
<path d="M102.1,299.0 L102.4,298.9 L102.9,298.7 L103.4,298.4 L103.9,297.9 L104.4,297.0 L104.9,295.8 L105.4,294.3 L105.9,292.6 L106.4,291.1 L106.9,290.0 L107.4,289.6 L107.9,290.0 L108.4,291.1 L108.9,292.6 L109.4,294.3 L109.9,295.8 L110.4,297.0 L110.9,297.9 L111.4,298.4 L111.9,298.7 L112.4,298.9 L112.7,299.0 Z" fill="#707070"/>
<polygon points="72.60,299.60 71.20,302.00 74.00,302.00" fill="#222"/>
<polygon points="107.40,299.60 106.00,302.00 108.80,302.00" fill="#222"/>
<rect x="75.30" y="215.30" width="53.50" height="31.00" fill="#fff" stroke="#222" stroke-width="1.1"/>
<text x="77.75" y="223.50" font-size="7.75" text-anchor="start" font-weight="normal" fill="#111" stroke="#111" stroke-width="0.22" >G0/G1=37.8%</text>
<text x="77.75" y="233.75" font-size="7.75" text-anchor="start" font-weight="normal" fill="#111" stroke="#111" stroke-width="0.22" >S=52.1%</text>
<text x="77.75" y="244.00" font-size="7.75" text-anchor="start" font-weight="normal" fill="#111" stroke="#111" stroke-width="0.22" >G2/M=10.1%</text>
<text x="205.20" y="204.60" font-size="8.8" text-anchor="middle" font-weight="normal" fill="#111" stroke="#111" stroke-width="0.22" >wt/wt MLL-AF9+TAM</text>
<line x1="161.30" y1="207.70" x2="248.80" y2="207.70" stroke="#222" stroke-width="1.2" />
<line x1="161.30" y1="215.40" x2="161.30" y2="299.00" stroke="#9a9a9a" stroke-width="0.7" />
<line x1="161.30" y1="299.00" x2="255.40" y2="299.00" stroke="#9a9a9a" stroke-width="0.7" stroke-dasharray="1.2 0.7"/>
<line x1="160.20" y1="299.00" x2="161.30" y2="299.00" stroke="#9a9a9a" stroke-width="0.5" />
<line x1="160.20" y1="295.56" x2="161.30" y2="295.56" stroke="#9a9a9a" stroke-width="0.5" />
<line x1="160.20" y1="292.12" x2="161.30" y2="292.12" stroke="#9a9a9a" stroke-width="0.5" />
<line x1="160.20" y1="288.69" x2="161.30" y2="288.69" stroke="#9a9a9a" stroke-width="0.5" />
<line x1="160.20" y1="285.25" x2="161.30" y2="285.25" stroke="#9a9a9a" stroke-width="0.5" />
<line x1="160.20" y1="281.81" x2="161.30" y2="281.81" stroke="#9a9a9a" stroke-width="0.5" />
<line x1="160.20" y1="278.38" x2="161.30" y2="278.38" stroke="#9a9a9a" stroke-width="0.5" />
<line x1="160.20" y1="274.94" x2="161.30" y2="274.94" stroke="#9a9a9a" stroke-width="0.5" />
<line x1="160.20" y1="271.50" x2="161.30" y2="271.50" stroke="#9a9a9a" stroke-width="0.5" />
<line x1="160.20" y1="268.06" x2="161.30" y2="268.06" stroke="#9a9a9a" stroke-width="0.5" />
<line x1="160.20" y1="264.62" x2="161.30" y2="264.62" stroke="#9a9a9a" stroke-width="0.5" />
<line x1="160.20" y1="261.19" x2="161.30" y2="261.19" stroke="#9a9a9a" stroke-width="0.5" />
<line x1="160.20" y1="257.75" x2="161.30" y2="257.75" stroke="#9a9a9a" stroke-width="0.5" />
<line x1="160.20" y1="254.31" x2="161.30" y2="254.31" stroke="#9a9a9a" stroke-width="0.5" />
<line x1="160.20" y1="250.88" x2="161.30" y2="250.88" stroke="#9a9a9a" stroke-width="0.5" />
<line x1="160.20" y1="247.44" x2="161.30" y2="247.44" stroke="#9a9a9a" stroke-width="0.5" />
<line x1="160.20" y1="244.00" x2="161.30" y2="244.00" stroke="#9a9a9a" stroke-width="0.5" />
<line x1="160.20" y1="240.56" x2="161.30" y2="240.56" stroke="#9a9a9a" stroke-width="0.5" />
<line x1="160.20" y1="237.12" x2="161.30" y2="237.12" stroke="#9a9a9a" stroke-width="0.5" />
<line x1="160.20" y1="233.69" x2="161.30" y2="233.69" stroke="#9a9a9a" stroke-width="0.5" />
<line x1="160.20" y1="230.25" x2="161.30" y2="230.25" stroke="#9a9a9a" stroke-width="0.5" />
<line x1="160.20" y1="226.81" x2="161.30" y2="226.81" stroke="#9a9a9a" stroke-width="0.5" />
<line x1="160.20" y1="223.38" x2="161.30" y2="223.38" stroke="#9a9a9a" stroke-width="0.5" />
<line x1="160.20" y1="219.94" x2="161.30" y2="219.94" stroke="#9a9a9a" stroke-width="0.5" />
<line x1="160.20" y1="216.50" x2="161.30" y2="216.50" stroke="#9a9a9a" stroke-width="0.5" />
<line x1="159.30" y1="230.30" x2="161.30" y2="230.30" stroke="#9a9a9a" stroke-width="0.6" />
<text x="158.50" y="232.50" font-size="6.2" text-anchor="end" font-weight="normal" fill="#333" stroke="#333" stroke-width="0.15" textLength="12.2" lengthAdjust="spacingAndGlyphs">1000</text>
<line x1="159.30" y1="244.10" x2="161.30" y2="244.10" stroke="#9a9a9a" stroke-width="0.6" />
<text x="158.50" y="246.30" font-size="6.2" text-anchor="end" font-weight="normal" fill="#333" stroke="#333" stroke-width="0.15" textLength="9.1" lengthAdjust="spacingAndGlyphs">800</text>
<line x1="159.30" y1="257.80" x2="161.30" y2="257.80" stroke="#9a9a9a" stroke-width="0.6" />
<text x="158.50" y="260.00" font-size="6.2" text-anchor="end" font-weight="normal" fill="#333" stroke="#333" stroke-width="0.15" textLength="9.1" lengthAdjust="spacingAndGlyphs">600</text>
<line x1="159.30" y1="271.50" x2="161.30" y2="271.50" stroke="#9a9a9a" stroke-width="0.6" />
<text x="158.50" y="273.70" font-size="6.2" text-anchor="end" font-weight="normal" fill="#333" stroke="#333" stroke-width="0.15" textLength="9.1" lengthAdjust="spacingAndGlyphs">400</text>
<line x1="159.30" y1="285.30" x2="161.30" y2="285.30" stroke="#9a9a9a" stroke-width="0.6" />
<text x="158.50" y="287.50" font-size="6.2" text-anchor="end" font-weight="normal" fill="#333" stroke="#333" stroke-width="0.15" textLength="9.1" lengthAdjust="spacingAndGlyphs">200</text>
<line x1="159.30" y1="299.00" x2="161.30" y2="299.00" stroke="#9a9a9a" stroke-width="0.6" />
<text x="158.50" y="301.20" font-size="6.2" text-anchor="end" font-weight="normal" fill="#333" stroke="#333" stroke-width="0.15" textLength="3.0" lengthAdjust="spacingAndGlyphs">0</text>
<text x="179.90" y="306.60" font-size="6.2" text-anchor="middle" font-weight="normal" fill="#333" stroke="#333" stroke-width="0.15" textLength="6.1" lengthAdjust="spacingAndGlyphs">30</text>
<text x="198.70" y="306.60" font-size="6.2" text-anchor="middle" font-weight="normal" fill="#333" stroke="#333" stroke-width="0.15" textLength="6.1" lengthAdjust="spacingAndGlyphs">60</text>
<text x="218.00" y="306.60" font-size="6.2" text-anchor="middle" font-weight="normal" fill="#333" stroke="#333" stroke-width="0.15" textLength="6.1" lengthAdjust="spacingAndGlyphs">90</text>
<text x="236.60" y="306.60" font-size="6.2" text-anchor="middle" font-weight="normal" fill="#333" stroke="#333" stroke-width="0.15" textLength="9.1" lengthAdjust="spacingAndGlyphs">120</text>
<text x="255.40" y="306.60" font-size="6.2" text-anchor="middle" font-weight="normal" fill="#333" stroke="#333" stroke-width="0.15" textLength="9.1" lengthAdjust="spacingAndGlyphs">150</text>
<path d="M196.0,299.0 L196.3,298.8 L196.8,298.6 L197.3,298.1 L197.8,296.9 L198.3,293.7 L198.8,286.3 L199.3,272.7 L199.8,254.1 L200.3,236.8 L200.8,229.5 L201.3,236.5 L201.8,253.6 L202.3,272.1 L202.8,285.6 L203.3,291.3 L203.8,291.3 L204.3,291.3 L204.8,291.3 L205.3,291.3 L205.8,291.2 L206.3,291.2 L206.8,291.2 L207.3,291.2 L207.8,291.3 L208.3,291.3 L208.8,291.3 L209.3,291.3 L209.8,291.3 L210.3,291.4 L210.8,291.4 L211.3,291.4 L211.8,291.5 L212.3,291.5 L212.8,291.6 L213.3,291.6 L213.8,291.7 L214.3,291.7 L214.8,291.8 L215.3,291.8 L215.8,291.9 L216.3,291.9 L216.8,291.9 L217.3,292.0 L217.8,292.0 L218.3,292.0 L218.8,292.1 L219.3,292.1 L219.8,292.1 L220.3,292.1 L220.8,292.1 L221.3,292.1 L221.8,292.1 L222.3,292.1 L222.8,292.1 L223.3,292.1 L223.8,292.0 L224.3,292.0 L224.8,292.0 L225.3,292.0 L225.8,291.9 L226.3,291.9 L226.8,291.9 L227.3,291.8 L227.8,291.8 L228.3,291.8 L228.8,291.7 L229.3,291.7 L229.8,291.7 L230.3,291.7 L230.8,291.7 L231.3,291.6 L231.8,291.6 L232.3,291.6 L232.8,291.6 L233.3,291.6 L233.8,291.6 L234.3,291.7 L234.8,291.7 L235.3,291.7 L235.8,291.7 L236.3,290.3 L236.8,287.8 L237.3,285.6 L237.8,284.3 L238.3,284.2 L238.8,285.3 L239.3,287.3 L239.8,289.8 L240.3,292.3 L240.8,294.4 L241.3,296.1 L241.8,297.2 L242.3,297.8 L242.8,298.7 L243.3,298.9 L243.6,299.0 Z" fill="#dedede"/>
<path d="M196.0,299.0 L196.3,298.8 L196.8,298.6 L197.3,298.1 L197.8,296.9 L198.3,293.7 L198.8,286.3 L199.3,272.7 L199.8,254.1 L200.3,236.8 L200.8,229.5 L201.3,236.5 L201.8,253.6 L202.3,272.1 L202.8,285.6 L203.3,291.3 L203.8,291.3 L204.3,291.3 L204.8,291.3 L205.3,291.3 L205.8,291.2 L206.3,291.2 L206.8,291.2 L207.3,291.2 L207.8,291.3 L208.3,291.3 L208.8,291.3 L209.3,291.3 L209.8,291.3 L210.3,291.4 L210.8,291.4 L211.3,291.4 L211.8,291.5 L212.3,291.5 L212.8,291.6 L213.3,291.6 L213.8,291.7 L214.3,291.7 L214.8,291.8 L215.3,291.8 L215.8,291.9 L216.3,291.9 L216.8,291.9 L217.3,292.0 L217.8,292.0 L218.3,292.0 L218.8,292.1 L219.3,292.1 L219.8,292.1 L220.3,292.1 L220.8,292.1 L221.3,292.1 L221.8,292.1 L222.3,292.1 L222.8,292.1 L223.3,292.1 L223.8,292.0 L224.3,292.0 L224.8,292.0 L225.3,292.0 L225.8,291.9 L226.3,291.9 L226.8,291.9 L227.3,291.8 L227.8,291.8 L228.3,291.8 L228.8,291.7 L229.3,291.7 L229.8,291.7 L230.3,291.7 L230.8,291.7 L231.3,291.6 L231.8,291.6 L232.3,291.6 L232.8,291.6 L233.3,291.6 L233.8,291.6 L234.3,291.7 L234.8,291.7 L235.3,291.7 L235.8,291.7 L236.3,290.3 L236.8,287.8 L237.3,285.6 L237.8,284.3 L238.3,284.2 L238.8,285.3 L239.3,287.3 L239.8,289.8 L240.3,292.3 L240.8,294.4 L241.3,296.1 L241.8,297.2 L242.3,297.8 L242.8,298.7 L243.3,298.9 L243.6,299.0" fill="none" stroke="#6e6e6e" stroke-width="0.5"/>
<path d="M201.0,299.0 L201.3,296.9 L201.8,294.8 L202.3,292.7 L202.8,292.7 L203.3,292.7 L203.8,292.6 L204.3,292.6 L204.8,292.6 L205.3,292.6 L205.8,292.6 L206.3,292.6 L206.8,292.6 L207.3,292.6 L207.8,292.6 L208.3,292.6 L208.8,292.6 L209.3,292.6 L209.8,292.7 L210.3,292.7 L210.8,292.7 L211.3,292.8 L211.8,292.8 L212.3,292.8 L212.8,292.9 L213.3,292.9 L213.8,293.0 L214.3,293.0 L214.8,293.1 L215.3,293.1 L215.8,293.1 L216.3,293.2 L216.8,293.2 L217.3,293.2 L217.8,293.3 L218.3,293.3 L218.8,293.3 L219.3,293.3 L219.8,293.4 L220.3,293.4 L220.8,293.4 L221.3,293.4 L221.8,293.4 L222.3,293.4 L222.8,293.3 L223.3,293.3 L223.8,293.3 L224.3,293.3 L224.8,293.3 L225.3,293.2 L225.8,293.2 L226.3,293.2 L226.8,293.2 L227.3,293.1 L227.8,293.1 L228.3,293.1 L228.8,293.0 L229.3,293.0 L229.8,293.0 L230.3,293.0 L230.8,293.0 L231.3,292.9 L231.8,292.9 L232.3,292.9 L232.8,292.9 L233.3,292.9 L233.8,292.9 L234.3,293.0 L234.8,293.0 L235.3,293.0 L235.8,293.0 L236.3,293.6 L236.8,295.2 L237.3,296.6 L237.8,298.1 L238.1,299.0 Z" fill="#bcbcbc"/>
<path d="M201.0,299.0 L201.3,296.9 L201.8,294.8 L202.3,292.7 L202.8,292.7 L203.3,292.7 L203.8,292.6 L204.3,292.6 L204.8,292.6 L205.3,292.6 L205.8,292.6 L206.3,292.6 L206.8,292.6 L207.3,292.6 L207.8,292.6 L208.3,292.6 L208.8,292.6 L209.3,292.6 L209.8,292.7 L210.3,292.7 L210.8,292.7 L211.3,292.8 L211.8,292.8 L212.3,292.8 L212.8,292.9 L213.3,292.9 L213.8,293.0 L214.3,293.0 L214.8,293.1 L215.3,293.1 L215.8,293.1 L216.3,293.2 L216.8,293.2 L217.3,293.2 L217.8,293.3 L218.3,293.3 L218.8,293.3 L219.3,293.3 L219.8,293.4 L220.3,293.4 L220.8,293.4 L221.3,293.4 L221.8,293.4 L222.3,293.4 L222.8,293.3 L223.3,293.3 L223.8,293.3 L224.3,293.3 L224.8,293.3 L225.3,293.2 L225.8,293.2 L226.3,293.2 L226.8,293.2 L227.3,293.1 L227.8,293.1 L228.3,293.1 L228.8,293.0 L229.3,293.0 L229.8,293.0 L230.3,293.0 L230.8,293.0 L231.3,292.9 L231.8,292.9 L232.3,292.9 L232.8,292.9 L233.3,292.9 L233.8,292.9 L234.3,293.0 L234.8,293.0 L235.3,293.0 L235.8,293.0 L236.3,293.6 L236.8,295.2 L237.3,296.6 L237.8,298.1 L238.1,299.0" fill="none" stroke="#8a8a8a" stroke-width="0.4"/>
<path d="M196.0,299.0 L196.3,298.8 L196.8,298.6 L197.3,298.1 L197.8,296.9 L198.3,293.7 L198.8,286.3 L199.3,272.7 L199.8,254.1 L200.3,236.8 L200.8,229.5 L201.3,236.5 L201.8,253.6 L202.3,272.1 L202.8,285.6 L203.3,293.0 L203.8,296.3 L204.3,297.7 L204.8,298.2 L205.3,298.6 L205.8,298.8 L206.3,298.9 L206.6,299.0 Z" fill="#606060"/>
<path d="M233.0,299.0 L233.3,298.8 L233.8,298.5 L234.3,298.0 L234.8,297.2 L235.3,295.9 L235.8,294.2 L236.3,292.1 L236.8,290.0 L237.3,288.3 L237.8,287.2 L238.3,287.1 L238.8,288.0 L239.3,289.6 L239.8,291.7 L240.3,293.8 L240.8,295.6 L241.3,297.0 L241.8,297.9 L242.3,298.4 L242.8,298.7 L243.1,299.0 Z" fill="#707070"/>
<polygon points="200.80,299.60 199.40,302.00 202.20,302.00" fill="#222"/>
<polygon points="238.10,299.60 236.70,302.00 239.50,302.00" fill="#222"/>
<rect x="202.60" y="215.50" width="53.90" height="33.30" fill="#fff" stroke="#222" stroke-width="1.1"/>
<text x="204.90" y="225.30" font-size="7.75" text-anchor="start" font-weight="normal" fill="#111" stroke="#111" stroke-width="0.22" >G0/G1=32.9%</text>
<text x="204.90" y="235.80" font-size="7.75" text-anchor="start" font-weight="normal" fill="#111" stroke="#111" stroke-width="0.22" >S=54.9%</text>
<text x="204.90" y="246.50" font-size="7.75" text-anchor="start" font-weight="normal" fill="#111" stroke="#111" stroke-width="0.22" >G2/M=12.2%</text>
<text x="341.20" y="204.00" font-size="8.8" text-anchor="middle" font-weight="normal" fill="#111" stroke="#111" stroke-width="0.22" >2l/1l MLL-AF9</text>
<line x1="298.20" y1="207.70" x2="383.00" y2="207.70" stroke="#222" stroke-width="1.2" />
<line x1="289.90" y1="216.00" x2="289.90" y2="299.60" stroke="#9a9a9a" stroke-width="0.7" />
<line x1="289.90" y1="299.60" x2="384.80" y2="299.60" stroke="#9a9a9a" stroke-width="0.7" stroke-dasharray="1.2 0.7"/>
<line x1="288.80" y1="299.60" x2="289.90" y2="299.60" stroke="#9a9a9a" stroke-width="0.5" />
<line x1="288.80" y1="295.50" x2="289.90" y2="295.50" stroke="#9a9a9a" stroke-width="0.5" />
<line x1="288.80" y1="291.40" x2="289.90" y2="291.40" stroke="#9a9a9a" stroke-width="0.5" />
<line x1="288.80" y1="287.30" x2="289.90" y2="287.30" stroke="#9a9a9a" stroke-width="0.5" />
<line x1="288.80" y1="283.20" x2="289.90" y2="283.20" stroke="#9a9a9a" stroke-width="0.5" />
<line x1="288.80" y1="279.10" x2="289.90" y2="279.10" stroke="#9a9a9a" stroke-width="0.5" />
<line x1="288.80" y1="275.00" x2="289.90" y2="275.00" stroke="#9a9a9a" stroke-width="0.5" />
<line x1="288.80" y1="270.90" x2="289.90" y2="270.90" stroke="#9a9a9a" stroke-width="0.5" />
<line x1="288.80" y1="266.80" x2="289.90" y2="266.80" stroke="#9a9a9a" stroke-width="0.5" />
<line x1="288.80" y1="262.70" x2="289.90" y2="262.70" stroke="#9a9a9a" stroke-width="0.5" />
<line x1="288.80" y1="258.60" x2="289.90" y2="258.60" stroke="#9a9a9a" stroke-width="0.5" />
<line x1="288.80" y1="254.50" x2="289.90" y2="254.50" stroke="#9a9a9a" stroke-width="0.5" />
<line x1="288.80" y1="250.40" x2="289.90" y2="250.40" stroke="#9a9a9a" stroke-width="0.5" />
<line x1="288.80" y1="246.30" x2="289.90" y2="246.30" stroke="#9a9a9a" stroke-width="0.5" />
<line x1="288.80" y1="242.20" x2="289.90" y2="242.20" stroke="#9a9a9a" stroke-width="0.5" />
<line x1="288.80" y1="238.10" x2="289.90" y2="238.10" stroke="#9a9a9a" stroke-width="0.5" />
<line x1="288.80" y1="234.00" x2="289.90" y2="234.00" stroke="#9a9a9a" stroke-width="0.5" />
<line x1="288.80" y1="229.90" x2="289.90" y2="229.90" stroke="#9a9a9a" stroke-width="0.5" />
<line x1="288.80" y1="225.80" x2="289.90" y2="225.80" stroke="#9a9a9a" stroke-width="0.5" />
<line x1="288.80" y1="221.70" x2="289.90" y2="221.70" stroke="#9a9a9a" stroke-width="0.5" />
<line x1="288.80" y1="217.60" x2="289.90" y2="217.60" stroke="#9a9a9a" stroke-width="0.5" />
<line x1="287.90" y1="234.20" x2="289.90" y2="234.20" stroke="#9a9a9a" stroke-width="0.6" />
<text x="287.10" y="236.40" font-size="6.2" text-anchor="end" font-weight="normal" fill="#333" stroke="#333" stroke-width="0.15" textLength="9.1" lengthAdjust="spacingAndGlyphs">800</text>
<line x1="287.90" y1="250.40" x2="289.90" y2="250.40" stroke="#9a9a9a" stroke-width="0.6" />
<text x="287.10" y="252.60" font-size="6.2" text-anchor="end" font-weight="normal" fill="#333" stroke="#333" stroke-width="0.15" textLength="9.1" lengthAdjust="spacingAndGlyphs">600</text>
<line x1="287.90" y1="266.80" x2="289.90" y2="266.80" stroke="#9a9a9a" stroke-width="0.6" />
<text x="287.10" y="269.00" font-size="6.2" text-anchor="end" font-weight="normal" fill="#333" stroke="#333" stroke-width="0.15" textLength="9.1" lengthAdjust="spacingAndGlyphs">400</text>
<line x1="287.90" y1="283.20" x2="289.90" y2="283.20" stroke="#9a9a9a" stroke-width="0.6" />
<text x="287.10" y="285.40" font-size="6.2" text-anchor="end" font-weight="normal" fill="#333" stroke="#333" stroke-width="0.15" textLength="9.1" lengthAdjust="spacingAndGlyphs">200</text>
<line x1="287.90" y1="299.60" x2="289.90" y2="299.60" stroke="#9a9a9a" stroke-width="0.6" />
<text x="287.10" y="301.80" font-size="6.2" text-anchor="end" font-weight="normal" fill="#333" stroke="#333" stroke-width="0.15" textLength="3.0" lengthAdjust="spacingAndGlyphs">0</text>
<text x="309.30" y="307.20" font-size="6.2" text-anchor="middle" font-weight="normal" fill="#333" stroke="#333" stroke-width="0.15" textLength="6.1" lengthAdjust="spacingAndGlyphs">30</text>
<text x="328.70" y="307.20" font-size="6.2" text-anchor="middle" font-weight="normal" fill="#333" stroke="#333" stroke-width="0.15" textLength="6.1" lengthAdjust="spacingAndGlyphs">60</text>
<text x="347.20" y="307.20" font-size="6.2" text-anchor="middle" font-weight="normal" fill="#333" stroke="#333" stroke-width="0.15" textLength="6.1" lengthAdjust="spacingAndGlyphs">90</text>
<text x="366.00" y="307.20" font-size="6.2" text-anchor="middle" font-weight="normal" fill="#333" stroke="#333" stroke-width="0.15" textLength="9.1" lengthAdjust="spacingAndGlyphs">120</text>
<text x="384.80" y="307.20" font-size="6.2" text-anchor="middle" font-weight="normal" fill="#333" stroke="#333" stroke-width="0.15" textLength="9.1" lengthAdjust="spacingAndGlyphs">150</text>
<path d="M326.1,299.6 L326.4,299.4 L326.9,299.2 L327.4,298.7 L327.9,297.6 L328.4,294.5 L328.9,287.2 L329.4,273.2 L329.9,252.6 L330.4,231.7 L330.9,220.3 L331.4,225.2 L331.9,243.2 L332.4,264.8 L332.9,281.7 L333.4,290.0 L333.9,290.0 L334.4,290.0 L334.9,290.0 L335.4,290.0 L335.9,290.1 L336.4,290.1 L336.9,290.1 L337.4,290.1 L337.9,290.2 L338.4,290.2 L338.9,290.3 L339.4,290.3 L339.9,290.4 L340.4,290.4 L340.9,290.5 L341.4,290.5 L341.9,290.6 L342.4,290.7 L342.9,290.8 L343.4,290.8 L343.9,290.9 L344.4,291.0 L344.9,291.1 L345.4,291.1 L345.9,291.2 L346.4,291.3 L346.9,291.3 L347.4,291.4 L347.9,291.5 L348.4,291.6 L348.9,291.6 L349.4,291.7 L349.9,291.7 L350.4,291.8 L350.9,291.8 L351.4,291.9 L351.9,291.9 L352.4,291.9 L352.9,292.0 L353.4,292.0 L353.9,292.0 L354.4,292.0 L354.9,292.0 L355.4,292.0 L355.9,292.1 L356.4,292.1 L356.9,292.1 L357.4,292.1 L357.9,292.1 L358.4,292.1 L358.9,292.1 L359.4,292.1 L359.9,292.1 L360.4,292.1 L360.9,292.1 L361.4,292.1 L361.9,292.1 L362.4,292.1 L362.9,292.1 L363.4,292.1 L363.9,292.2 L364.4,292.2 L364.9,292.2 L365.4,292.3 L365.9,292.3 L366.4,292.3 L366.9,292.4 L367.4,292.4 L367.9,292.5 L368.4,291.8 L368.9,289.4 L369.4,287.3 L369.9,285.9 L370.4,285.6 L370.9,286.4 L371.4,288.1 L371.9,290.4 L372.4,292.8 L372.9,294.9 L373.4,296.5 L373.9,297.7 L374.4,298.4 L374.9,299.3 L375.4,299.4 L375.7,299.6 Z" fill="#dedede"/>
<path d="M326.1,299.6 L326.4,299.4 L326.9,299.2 L327.4,298.7 L327.9,297.6 L328.4,294.5 L328.9,287.2 L329.4,273.2 L329.9,252.6 L330.4,231.7 L330.9,220.3 L331.4,225.2 L331.9,243.2 L332.4,264.8 L332.9,281.7 L333.4,290.0 L333.9,290.0 L334.4,290.0 L334.9,290.0 L335.4,290.0 L335.9,290.1 L336.4,290.1 L336.9,290.1 L337.4,290.1 L337.9,290.2 L338.4,290.2 L338.9,290.3 L339.4,290.3 L339.9,290.4 L340.4,290.4 L340.9,290.5 L341.4,290.5 L341.9,290.6 L342.4,290.7 L342.9,290.8 L343.4,290.8 L343.9,290.9 L344.4,291.0 L344.9,291.1 L345.4,291.1 L345.9,291.2 L346.4,291.3 L346.9,291.3 L347.4,291.4 L347.9,291.5 L348.4,291.6 L348.9,291.6 L349.4,291.7 L349.9,291.7 L350.4,291.8 L350.9,291.8 L351.4,291.9 L351.9,291.9 L352.4,291.9 L352.9,292.0 L353.4,292.0 L353.9,292.0 L354.4,292.0 L354.9,292.0 L355.4,292.0 L355.9,292.1 L356.4,292.1 L356.9,292.1 L357.4,292.1 L357.9,292.1 L358.4,292.1 L358.9,292.1 L359.4,292.1 L359.9,292.1 L360.4,292.1 L360.9,292.1 L361.4,292.1 L361.9,292.1 L362.4,292.1 L362.9,292.1 L363.4,292.1 L363.9,292.2 L364.4,292.2 L364.9,292.2 L365.4,292.3 L365.9,292.3 L366.4,292.3 L366.9,292.4 L367.4,292.4 L367.9,292.5 L368.4,291.8 L368.9,289.4 L369.4,287.3 L369.9,285.9 L370.4,285.6 L370.9,286.4 L371.4,288.1 L371.9,290.4 L372.4,292.8 L372.9,294.9 L373.4,296.5 L373.9,297.7 L374.4,298.4 L374.9,299.3 L375.4,299.4 L375.7,299.6" fill="none" stroke="#6e6e6e" stroke-width="0.5"/>
<path d="M331.1,299.6 L331.4,297.4 L331.9,294.7 L332.4,292.0 L332.9,291.5 L333.4,291.5 L333.9,291.5 L334.4,291.5 L334.9,291.5 L335.4,291.5 L335.9,291.6 L336.4,291.6 L336.9,291.6 L337.4,291.6 L337.9,291.7 L338.4,291.7 L338.9,291.8 L339.4,291.8 L339.9,291.8 L340.4,291.9 L340.9,292.0 L341.4,292.0 L341.9,292.1 L342.4,292.1 L342.9,292.2 L343.4,292.3 L343.9,292.3 L344.4,292.4 L344.9,292.5 L345.4,292.5 L345.9,292.6 L346.4,292.7 L346.9,292.7 L347.4,292.8 L347.9,292.9 L348.4,292.9 L348.9,293.0 L349.4,293.0 L349.9,293.1 L350.4,293.1 L350.9,293.2 L351.4,293.2 L351.9,293.2 L352.4,293.3 L352.9,293.3 L353.4,293.3 L353.9,293.3 L354.4,293.3 L354.9,293.4 L355.4,293.4 L355.9,293.4 L356.4,293.4 L356.9,293.4 L357.4,293.4 L357.9,293.4 L358.4,293.4 L358.9,293.4 L359.4,293.4 L359.9,293.4 L360.4,293.4 L360.9,293.4 L361.4,293.4 L361.9,293.4 L362.4,293.4 L362.9,293.4 L363.4,293.5 L363.9,293.5 L364.4,293.5 L364.9,293.5 L365.4,293.6 L365.9,293.6 L366.4,293.6 L366.9,293.7 L367.4,293.7 L367.9,293.8 L368.4,294.1 L368.9,295.6 L369.4,297.1 L369.9,298.5 L370.2,299.6 Z" fill="#bcbcbc"/>
<path d="M331.1,299.6 L331.4,297.4 L331.9,294.7 L332.4,292.0 L332.9,291.5 L333.4,291.5 L333.9,291.5 L334.4,291.5 L334.9,291.5 L335.4,291.5 L335.9,291.6 L336.4,291.6 L336.9,291.6 L337.4,291.6 L337.9,291.7 L338.4,291.7 L338.9,291.8 L339.4,291.8 L339.9,291.8 L340.4,291.9 L340.9,292.0 L341.4,292.0 L341.9,292.1 L342.4,292.1 L342.9,292.2 L343.4,292.3 L343.9,292.3 L344.4,292.4 L344.9,292.5 L345.4,292.5 L345.9,292.6 L346.4,292.7 L346.9,292.7 L347.4,292.8 L347.9,292.9 L348.4,292.9 L348.9,293.0 L349.4,293.0 L349.9,293.1 L350.4,293.1 L350.9,293.2 L351.4,293.2 L351.9,293.2 L352.4,293.3 L352.9,293.3 L353.4,293.3 L353.9,293.3 L354.4,293.3 L354.9,293.4 L355.4,293.4 L355.9,293.4 L356.4,293.4 L356.9,293.4 L357.4,293.4 L357.9,293.4 L358.4,293.4 L358.9,293.4 L359.4,293.4 L359.9,293.4 L360.4,293.4 L360.9,293.4 L361.4,293.4 L361.9,293.4 L362.4,293.4 L362.9,293.4 L363.4,293.5 L363.9,293.5 L364.4,293.5 L364.9,293.5 L365.4,293.6 L365.9,293.6 L366.4,293.6 L366.9,293.7 L367.4,293.7 L367.9,293.8 L368.4,294.1 L368.9,295.6 L369.4,297.1 L369.9,298.5 L370.2,299.6" fill="none" stroke="#8a8a8a" stroke-width="0.4"/>
<path d="M326.1,299.6 L326.4,299.4 L326.9,299.2 L327.4,298.7 L327.9,297.6 L328.4,294.5 L328.9,287.2 L329.4,273.2 L329.9,252.6 L330.4,231.7 L330.9,220.3 L331.4,225.2 L331.9,243.2 L332.4,264.8 L332.9,281.7 L333.4,291.5 L333.9,296.0 L334.4,297.8 L334.9,298.6 L335.4,299.0 L335.9,299.3 L336.4,299.4 L336.7,299.6 Z" fill="#606060"/>
<path d="M365.1,299.6 L365.4,299.4 L365.9,299.2 L366.4,298.8 L366.9,298.1 L367.4,297.0 L367.9,295.4 L368.4,293.5 L368.9,291.5 L369.4,289.8 L369.9,288.6 L370.4,288.3 L370.9,289.0 L371.4,290.4 L371.9,292.3 L372.4,294.3 L372.9,296.1 L373.4,297.5 L373.9,298.4 L374.4,299.0 L374.9,299.3 L375.4,299.5 L375.7,299.6 Z" fill="#707070"/>
<polygon points="331.00,300.20 329.60,302.60 332.40,302.60" fill="#222"/>
<polygon points="370.30,300.20 368.90,302.60 371.70,302.60" fill="#222"/>
<rect x="332.60" y="216.50" width="53.20" height="30.80" fill="#fff" stroke="#222" stroke-width="1.1"/>
<text x="334.90" y="225.30" font-size="7.75" text-anchor="start" font-weight="normal" fill="#111" stroke="#111" stroke-width="0.22" >G0/G1=34.2%</text>
<text x="334.90" y="235.30" font-size="7.75" text-anchor="start" font-weight="normal" fill="#111" stroke="#111" stroke-width="0.22" >S=56.4%</text>
<text x="334.90" y="245.30" font-size="7.75" text-anchor="start" font-weight="normal" fill="#111" stroke="#111" stroke-width="0.22" >G2/M=9.4%</text>
<text x="464.20" y="204.00" font-size="8.8" text-anchor="middle" font-weight="normal" fill="#111" stroke="#111" stroke-width="0.22" >2l/1l MLL-AF9+TAM</text>
<line x1="421.20" y1="207.70" x2="507.80" y2="207.70" stroke="#222" stroke-width="1.2" />
<line x1="416.40" y1="216.00" x2="416.40" y2="299.00" stroke="#9a9a9a" stroke-width="0.7" />
<line x1="416.40" y1="299.00" x2="510.70" y2="299.00" stroke="#9a9a9a" stroke-width="0.7" stroke-dasharray="1.2 0.7"/>
<line x1="415.30" y1="299.00" x2="416.40" y2="299.00" stroke="#9a9a9a" stroke-width="0.5" />
<line x1="415.30" y1="294.85" x2="416.40" y2="294.85" stroke="#9a9a9a" stroke-width="0.5" />
<line x1="415.30" y1="290.70" x2="416.40" y2="290.70" stroke="#9a9a9a" stroke-width="0.5" />
<line x1="415.30" y1="286.55" x2="416.40" y2="286.55" stroke="#9a9a9a" stroke-width="0.5" />
<line x1="415.30" y1="282.40" x2="416.40" y2="282.40" stroke="#9a9a9a" stroke-width="0.5" />
<line x1="415.30" y1="278.25" x2="416.40" y2="278.25" stroke="#9a9a9a" stroke-width="0.5" />
<line x1="415.30" y1="274.10" x2="416.40" y2="274.10" stroke="#9a9a9a" stroke-width="0.5" />
<line x1="415.30" y1="269.95" x2="416.40" y2="269.95" stroke="#9a9a9a" stroke-width="0.5" />
<line x1="415.30" y1="265.80" x2="416.40" y2="265.80" stroke="#9a9a9a" stroke-width="0.5" />
<line x1="415.30" y1="261.65" x2="416.40" y2="261.65" stroke="#9a9a9a" stroke-width="0.5" />
<line x1="415.30" y1="257.50" x2="416.40" y2="257.50" stroke="#9a9a9a" stroke-width="0.5" />
<line x1="415.30" y1="253.35" x2="416.40" y2="253.35" stroke="#9a9a9a" stroke-width="0.5" />
<line x1="415.30" y1="249.20" x2="416.40" y2="249.20" stroke="#9a9a9a" stroke-width="0.5" />
<line x1="415.30" y1="245.05" x2="416.40" y2="245.05" stroke="#9a9a9a" stroke-width="0.5" />
<line x1="415.30" y1="240.90" x2="416.40" y2="240.90" stroke="#9a9a9a" stroke-width="0.5" />
<line x1="415.30" y1="236.75" x2="416.40" y2="236.75" stroke="#9a9a9a" stroke-width="0.5" />
<line x1="415.30" y1="232.60" x2="416.40" y2="232.60" stroke="#9a9a9a" stroke-width="0.5" />
<line x1="415.30" y1="228.45" x2="416.40" y2="228.45" stroke="#9a9a9a" stroke-width="0.5" />
<line x1="415.30" y1="224.30" x2="416.40" y2="224.30" stroke="#9a9a9a" stroke-width="0.5" />
<line x1="415.30" y1="220.15" x2="416.40" y2="220.15" stroke="#9a9a9a" stroke-width="0.5" />
<line x1="415.30" y1="216.00" x2="416.40" y2="216.00" stroke="#9a9a9a" stroke-width="0.5" />
<line x1="414.40" y1="232.40" x2="416.40" y2="232.40" stroke="#9a9a9a" stroke-width="0.6" />
<text x="413.60" y="234.60" font-size="6.2" text-anchor="end" font-weight="normal" fill="#333" stroke="#333" stroke-width="0.15" textLength="9.1" lengthAdjust="spacingAndGlyphs">320</text>
<line x1="414.40" y1="249.00" x2="416.40" y2="249.00" stroke="#9a9a9a" stroke-width="0.6" />
<text x="413.60" y="251.20" font-size="6.2" text-anchor="end" font-weight="normal" fill="#333" stroke="#333" stroke-width="0.15" textLength="9.1" lengthAdjust="spacingAndGlyphs">240</text>
<line x1="414.40" y1="265.60" x2="416.40" y2="265.60" stroke="#9a9a9a" stroke-width="0.6" />
<text x="413.60" y="267.80" font-size="6.2" text-anchor="end" font-weight="normal" fill="#333" stroke="#333" stroke-width="0.15" textLength="9.1" lengthAdjust="spacingAndGlyphs">160</text>
<line x1="414.40" y1="282.30" x2="416.40" y2="282.30" stroke="#9a9a9a" stroke-width="0.6" />
<text x="413.60" y="284.50" font-size="6.2" text-anchor="end" font-weight="normal" fill="#333" stroke="#333" stroke-width="0.15" textLength="6.1" lengthAdjust="spacingAndGlyphs">80</text>
<line x1="414.40" y1="299.00" x2="416.40" y2="299.00" stroke="#9a9a9a" stroke-width="0.6" />
<text x="413.60" y="301.20" font-size="6.2" text-anchor="end" font-weight="normal" fill="#333" stroke="#333" stroke-width="0.15" textLength="3.0" lengthAdjust="spacingAndGlyphs">0</text>
<text x="435.20" y="306.60" font-size="6.2" text-anchor="middle" font-weight="normal" fill="#333" stroke="#333" stroke-width="0.15" textLength="6.1" lengthAdjust="spacingAndGlyphs">30</text>
<text x="454.00" y="306.60" font-size="6.2" text-anchor="middle" font-weight="normal" fill="#333" stroke="#333" stroke-width="0.15" textLength="6.1" lengthAdjust="spacingAndGlyphs">60</text>
<text x="473.10" y="306.60" font-size="6.2" text-anchor="middle" font-weight="normal" fill="#333" stroke="#333" stroke-width="0.15" textLength="6.1" lengthAdjust="spacingAndGlyphs">90</text>
<text x="492.00" y="306.60" font-size="6.2" text-anchor="middle" font-weight="normal" fill="#333" stroke="#333" stroke-width="0.15" textLength="9.1" lengthAdjust="spacingAndGlyphs">120</text>
<text x="510.70" y="306.60" font-size="6.2" text-anchor="middle" font-weight="normal" fill="#333" stroke="#333" stroke-width="0.15" textLength="9.1" lengthAdjust="spacingAndGlyphs">150</text>
<path d="M452.6,299.0 L452.9,298.8 L453.4,298.6 L453.9,298.1 L454.4,297.0 L454.9,293.9 L455.4,286.1 L455.9,270.4 L456.4,245.8 L456.9,218.5 L457.4,216.0 L457.9,216.0 L458.4,223.1 L458.9,250.4 L459.4,273.4 L459.9,287.3 L460.4,294.0 L460.9,296.7 L461.4,296.8 L461.9,296.7 L462.4,296.7 L462.9,296.7 L463.4,296.7 L463.9,296.7 L464.4,296.7 L464.9,296.8 L465.4,296.8 L465.9,296.8 L466.4,296.8 L466.9,296.9 L467.4,296.9 L467.9,296.9 L468.4,297.0 L468.9,297.0 L469.4,297.1 L469.9,297.1 L470.4,297.2 L470.9,297.2 L471.4,297.3 L471.9,297.3 L472.4,297.4 L472.9,297.4 L473.4,297.4 L473.9,297.5 L474.4,297.5 L474.9,297.5 L475.4,297.5 L475.9,297.5 L476.4,297.5 L476.9,297.5 L477.4,297.5 L477.9,297.5 L478.4,297.5 L478.9,297.5 L479.4,297.5 L479.9,297.4 L480.4,297.4 L480.9,297.4 L481.4,297.4 L481.9,297.3 L482.4,297.3 L482.9,297.2 L483.4,297.2 L483.9,297.2 L484.4,297.1 L484.9,297.1 L485.4,297.1 L485.9,297.1 L486.4,297.1 L486.9,297.0 L487.4,297.0 L487.9,297.0 L488.4,297.0 L488.9,297.0 L489.4,297.1 L489.9,297.1 L490.4,297.1 L490.9,297.1 L491.4,297.4 L491.9,297.5 L492.4,297.4 L492.9,297.3 L493.4,297.3 L493.9,297.5 L494.4,297.6 L494.9,297.9 L495.4,298.1 L495.9,298.7 L496.4,298.8 L496.7,299.0 Z" fill="#dedede"/>
<path d="M452.6,299.0 L452.9,298.8 L453.4,298.6 L453.9,298.1 L454.4,297.0 L454.9,293.9 L455.4,286.1 L455.9,270.4 L456.4,245.8 L456.9,218.5 L457.4,216.0 L457.9,216.0 L458.4,223.1 L458.9,250.4 L459.4,273.4 L459.9,287.3 L460.4,294.0 L460.9,296.7 L461.4,296.8 L461.9,296.7 L462.4,296.7 L462.9,296.7 L463.4,296.7 L463.9,296.7 L464.4,296.7 L464.9,296.8 L465.4,296.8 L465.9,296.8 L466.4,296.8 L466.9,296.9 L467.4,296.9 L467.9,296.9 L468.4,297.0 L468.9,297.0 L469.4,297.1 L469.9,297.1 L470.4,297.2 L470.9,297.2 L471.4,297.3 L471.9,297.3 L472.4,297.4 L472.9,297.4 L473.4,297.4 L473.9,297.5 L474.4,297.5 L474.9,297.5 L475.4,297.5 L475.9,297.5 L476.4,297.5 L476.9,297.5 L477.4,297.5 L477.9,297.5 L478.4,297.5 L478.9,297.5 L479.4,297.5 L479.9,297.4 L480.4,297.4 L480.9,297.4 L481.4,297.4 L481.9,297.3 L482.4,297.3 L482.9,297.2 L483.4,297.2 L483.9,297.2 L484.4,297.1 L484.9,297.1 L485.4,297.1 L485.9,297.1 L486.4,297.1 L486.9,297.0 L487.4,297.0 L487.9,297.0 L488.4,297.0 L488.9,297.0 L489.4,297.1 L489.9,297.1 L490.4,297.1 L490.9,297.1 L491.4,297.4 L491.9,297.5 L492.4,297.4 L492.9,297.3 L493.4,297.3 L493.9,297.5 L494.4,297.6 L494.9,297.9 L495.4,298.1 L495.9,298.7 L496.4,298.8 L496.7,299.0" fill="none" stroke="#6e6e6e" stroke-width="0.5"/>
<path d="M457.6,299.0 L457.9,298.8 L458.4,298.3 L458.9,297.9 L459.4,297.7 L459.9,297.7 L460.4,297.6 L460.9,297.6 L461.4,297.6 L461.9,297.6 L462.4,297.6 L462.9,297.6 L463.4,297.6 L463.9,297.6 L464.4,297.6 L464.9,297.6 L465.4,297.6 L465.9,297.6 L466.4,297.7 L466.9,297.7 L467.4,297.7 L467.9,297.8 L468.4,297.8 L468.9,297.8 L469.4,297.9 L469.9,297.9 L470.4,298.0 L470.9,298.0 L471.4,298.1 L471.9,298.1 L472.4,298.1 L472.9,298.2 L473.4,298.2 L473.9,298.2 L474.4,298.3 L474.9,298.3 L475.4,298.3 L475.9,298.3 L476.4,298.3 L476.9,298.3 L477.4,298.3 L477.9,298.3 L478.4,298.3 L478.9,298.3 L479.4,298.2 L479.9,298.2 L480.4,298.2 L480.9,298.2 L481.4,298.1 L481.9,298.1 L482.4,298.1 L482.9,298.0 L483.4,298.0 L483.9,298.0 L484.4,298.0 L484.9,297.9 L485.4,297.9 L485.9,297.9 L486.4,297.9 L486.9,297.9 L487.4,297.8 L487.9,297.8 L488.4,297.8 L488.9,297.9 L489.4,297.9 L489.9,297.9 L490.4,297.9 L490.9,297.9 L491.4,298.2 L491.9,298.4 L492.4,298.7 L492.7,299.0 Z" fill="#bcbcbc"/>
<path d="M457.6,299.0 L457.9,298.8 L458.4,298.3 L458.9,297.9 L459.4,297.7 L459.9,297.7 L460.4,297.6 L460.9,297.6 L461.4,297.6 L461.9,297.6 L462.4,297.6 L462.9,297.6 L463.4,297.6 L463.9,297.6 L464.4,297.6 L464.9,297.6 L465.4,297.6 L465.9,297.6 L466.4,297.7 L466.9,297.7 L467.4,297.7 L467.9,297.8 L468.4,297.8 L468.9,297.8 L469.4,297.9 L469.9,297.9 L470.4,298.0 L470.9,298.0 L471.4,298.1 L471.9,298.1 L472.4,298.1 L472.9,298.2 L473.4,298.2 L473.9,298.2 L474.4,298.3 L474.9,298.3 L475.4,298.3 L475.9,298.3 L476.4,298.3 L476.9,298.3 L477.4,298.3 L477.9,298.3 L478.4,298.3 L478.9,298.3 L479.4,298.2 L479.9,298.2 L480.4,298.2 L480.9,298.2 L481.4,298.1 L481.9,298.1 L482.4,298.1 L482.9,298.0 L483.4,298.0 L483.9,298.0 L484.4,298.0 L484.9,297.9 L485.4,297.9 L485.9,297.9 L486.4,297.9 L486.9,297.9 L487.4,297.8 L487.9,297.8 L488.4,297.8 L488.9,297.9 L489.4,297.9 L489.9,297.9 L490.4,297.9 L490.9,297.9 L491.4,298.2 L491.9,298.4 L492.4,298.7 L492.7,299.0" fill="none" stroke="#8a8a8a" stroke-width="0.4"/>
<path d="M452.6,299.0 L452.9,298.8 L453.4,298.6 L453.9,298.1 L454.4,297.0 L454.9,293.9 L455.4,286.1 L455.9,270.4 L456.4,245.8 L456.9,218.5 L457.4,216.0 L457.9,216.0 L458.4,223.1 L458.9,250.4 L459.4,273.4 L459.9,287.3 L460.4,294.0 L460.9,296.7 L461.4,297.8 L461.9,298.3 L462.4,298.6 L462.9,298.8 L463.2,299.0 Z" fill="#606060"/>
<path d="M489.6,299.0 L489.9,298.8 L490.4,298.7 L490.9,298.5 L491.4,298.4 L491.9,298.2 L492.4,298.1 L492.9,298.0 L493.4,298.0 L493.9,298.1 L494.4,298.3 L494.9,298.5 L495.4,298.6 L495.9,298.8 L496.4,298.9 L496.7,299.0 Z" fill="#707070"/>
<polygon points="457.60,299.60 456.20,302.00 459.00,302.00" fill="#222"/>
<polygon points="493.00,299.60 491.60,302.00 494.40,302.00" fill="#222"/>
<rect x="460.00" y="215.50" width="53.40" height="31.80" fill="#fff" stroke="#222" stroke-width="1.1"/>
<text x="462.60" y="225.00" font-size="7.75" text-anchor="start" font-weight="normal" fill="#111" stroke="#111" stroke-width="0.22" >G0/G1=91.4%</text>
<text x="462.60" y="235.00" font-size="7.75" text-anchor="start" font-weight="normal" fill="#111" stroke="#111" stroke-width="0.22" >S=7.5</text>
<text x="462.60" y="245.80" font-size="7.75" text-anchor="start" font-weight="normal" fill="#111" stroke="#111" stroke-width="0.22" >G2/M=1.1%</text>
<text x="83.00" y="349.00" font-size="8.8" text-anchor="middle" font-weight="normal" fill="#111" stroke="#111" stroke-width="0.22" >wt/wt MLL-AFX</text>
<line x1="41.20" y1="352.60" x2="128.40" y2="352.60" stroke="#222" stroke-width="1.2" />
<line x1="35.40" y1="361.00" x2="35.40" y2="444.50" stroke="#9a9a9a" stroke-width="0.7" />
<line x1="35.40" y1="444.50" x2="130.00" y2="444.50" stroke="#9a9a9a" stroke-width="0.7" stroke-dasharray="1.2 0.7"/>
<line x1="34.30" y1="444.50" x2="35.40" y2="444.50" stroke="#9a9a9a" stroke-width="0.5" />
<line x1="34.30" y1="439.93" x2="35.40" y2="439.93" stroke="#9a9a9a" stroke-width="0.5" />
<line x1="34.30" y1="435.35" x2="35.40" y2="435.35" stroke="#9a9a9a" stroke-width="0.5" />
<line x1="34.30" y1="430.77" x2="35.40" y2="430.77" stroke="#9a9a9a" stroke-width="0.5" />
<line x1="34.30" y1="426.20" x2="35.40" y2="426.20" stroke="#9a9a9a" stroke-width="0.5" />
<line x1="34.30" y1="421.62" x2="35.40" y2="421.62" stroke="#9a9a9a" stroke-width="0.5" />
<line x1="34.30" y1="417.05" x2="35.40" y2="417.05" stroke="#9a9a9a" stroke-width="0.5" />
<line x1="34.30" y1="412.48" x2="35.40" y2="412.48" stroke="#9a9a9a" stroke-width="0.5" />
<line x1="34.30" y1="407.90" x2="35.40" y2="407.90" stroke="#9a9a9a" stroke-width="0.5" />
<line x1="34.30" y1="403.32" x2="35.40" y2="403.32" stroke="#9a9a9a" stroke-width="0.5" />
<line x1="34.30" y1="398.75" x2="35.40" y2="398.75" stroke="#9a9a9a" stroke-width="0.5" />
<line x1="34.30" y1="394.18" x2="35.40" y2="394.18" stroke="#9a9a9a" stroke-width="0.5" />
<line x1="34.30" y1="389.60" x2="35.40" y2="389.60" stroke="#9a9a9a" stroke-width="0.5" />
<line x1="34.30" y1="385.02" x2="35.40" y2="385.02" stroke="#9a9a9a" stroke-width="0.5" />
<line x1="34.30" y1="380.45" x2="35.40" y2="380.45" stroke="#9a9a9a" stroke-width="0.5" />
<line x1="34.30" y1="375.88" x2="35.40" y2="375.88" stroke="#9a9a9a" stroke-width="0.5" />
<line x1="34.30" y1="371.30" x2="35.40" y2="371.30" stroke="#9a9a9a" stroke-width="0.5" />
<line x1="34.30" y1="366.73" x2="35.40" y2="366.73" stroke="#9a9a9a" stroke-width="0.5" />
<line x1="34.30" y1="362.15" x2="35.40" y2="362.15" stroke="#9a9a9a" stroke-width="0.5" />
<line x1="33.40" y1="371.30" x2="35.40" y2="371.30" stroke="#9a9a9a" stroke-width="0.6" />
<text x="32.60" y="373.50" font-size="6.2" text-anchor="end" font-weight="normal" fill="#333" stroke="#333" stroke-width="0.15" textLength="12.2" lengthAdjust="spacingAndGlyphs">1600</text>
<line x1="33.40" y1="389.60" x2="35.40" y2="389.60" stroke="#9a9a9a" stroke-width="0.6" />
<text x="32.60" y="391.80" font-size="6.2" text-anchor="end" font-weight="normal" fill="#333" stroke="#333" stroke-width="0.15" textLength="12.2" lengthAdjust="spacingAndGlyphs">1200</text>
<line x1="33.40" y1="407.90" x2="35.40" y2="407.90" stroke="#9a9a9a" stroke-width="0.6" />
<text x="32.60" y="410.10" font-size="6.2" text-anchor="end" font-weight="normal" fill="#333" stroke="#333" stroke-width="0.15" textLength="9.1" lengthAdjust="spacingAndGlyphs">800</text>
<line x1="33.40" y1="426.20" x2="35.40" y2="426.20" stroke="#9a9a9a" stroke-width="0.6" />
<text x="32.60" y="428.40" font-size="6.2" text-anchor="end" font-weight="normal" fill="#333" stroke="#333" stroke-width="0.15" textLength="9.1" lengthAdjust="spacingAndGlyphs">400</text>
<line x1="33.40" y1="444.50" x2="35.40" y2="444.50" stroke="#9a9a9a" stroke-width="0.6" />
<text x="32.60" y="446.70" font-size="6.2" text-anchor="end" font-weight="normal" fill="#333" stroke="#333" stroke-width="0.15" textLength="3.0" lengthAdjust="spacingAndGlyphs">0</text>
<text x="53.00" y="452.10" font-size="6.2" text-anchor="middle" font-weight="normal" fill="#333" stroke="#333" stroke-width="0.15" textLength="6.1" lengthAdjust="spacingAndGlyphs">30</text>
<text x="74.90" y="452.10" font-size="6.2" text-anchor="middle" font-weight="normal" fill="#333" stroke="#333" stroke-width="0.15" textLength="6.1" lengthAdjust="spacingAndGlyphs">60</text>
<text x="88.30" y="452.10" font-size="6.2" text-anchor="middle" font-weight="normal" fill="#333" stroke="#333" stroke-width="0.15" textLength="6.1" lengthAdjust="spacingAndGlyphs">90</text>
<text x="111.70" y="452.10" font-size="6.2" text-anchor="middle" font-weight="normal" fill="#333" stroke="#333" stroke-width="0.15" textLength="9.1" lengthAdjust="spacingAndGlyphs">120</text>
<text x="129.20" y="452.10" font-size="6.2" text-anchor="middle" font-weight="normal" fill="#333" stroke="#333" stroke-width="0.15" textLength="9.1" lengthAdjust="spacingAndGlyphs">150</text>
<path d="M70.1,444.5 L70.4,444.4 L70.9,444.2 L71.4,443.8 L71.9,442.9 L72.4,440.5 L72.9,435.2 L73.4,424.9 L73.9,409.2 L74.4,391.0 L74.9,376.7 L75.4,372.7 L75.9,381.1 L76.4,397.7 L76.9,415.4 L77.4,428.9 L77.9,437.1 L78.4,441.2 L78.9,442.2 L79.4,442.2 L79.9,442.2 L80.4,442.2 L80.9,442.2 L81.4,442.2 L81.9,442.2 L82.4,442.2 L82.9,442.2 L83.4,442.2 L83.9,442.2 L84.4,442.2 L84.9,442.2 L85.4,442.3 L85.9,442.3 L86.4,442.3 L86.9,442.4 L87.4,442.4 L87.9,442.4 L88.4,442.5 L88.9,442.5 L89.4,442.6 L89.9,442.6 L90.4,442.6 L90.9,442.7 L91.4,442.7 L91.9,442.7 L92.4,442.8 L92.9,442.8 L93.4,442.8 L93.9,442.8 L94.4,442.8 L94.9,442.8 L95.4,442.8 L95.9,442.8 L96.4,442.8 L96.9,442.8 L97.4,442.8 L97.9,442.7 L98.4,442.7 L98.9,442.7 L99.4,442.6 L99.9,442.6 L100.4,442.6 L100.9,442.5 L101.4,442.5 L101.9,442.4 L102.4,442.4 L102.9,442.4 L103.4,442.3 L103.9,442.3 L104.4,442.3 L104.9,442.2 L105.4,442.2 L105.9,442.2 L106.4,442.2 L106.9,442.2 L107.4,442.2 L107.9,442.2 L108.4,442.2 L108.9,442.2 L109.4,442.2 L109.9,442.2 L110.4,442.2 L110.9,441.8 L111.4,441.1 L111.9,440.5 L112.4,440.0 L112.9,439.9 L113.4,440.2 L113.9,440.7 L114.4,441.4 L114.9,442.1 L115.4,442.7 L115.9,443.2 L116.4,443.6 L116.9,444.3 L117.2,444.5 Z" fill="#dedede"/>
<path d="M70.1,444.5 L70.4,444.4 L70.9,444.2 L71.4,443.8 L71.9,442.9 L72.4,440.5 L72.9,435.2 L73.4,424.9 L73.9,409.2 L74.4,391.0 L74.9,376.7 L75.4,372.7 L75.9,381.1 L76.4,397.7 L76.9,415.4 L77.4,428.9 L77.9,437.1 L78.4,441.2 L78.9,442.2 L79.4,442.2 L79.9,442.2 L80.4,442.2 L80.9,442.2 L81.4,442.2 L81.9,442.2 L82.4,442.2 L82.9,442.2 L83.4,442.2 L83.9,442.2 L84.4,442.2 L84.9,442.2 L85.4,442.3 L85.9,442.3 L86.4,442.3 L86.9,442.4 L87.4,442.4 L87.9,442.4 L88.4,442.5 L88.9,442.5 L89.4,442.6 L89.9,442.6 L90.4,442.6 L90.9,442.7 L91.4,442.7 L91.9,442.7 L92.4,442.8 L92.9,442.8 L93.4,442.8 L93.9,442.8 L94.4,442.8 L94.9,442.8 L95.4,442.8 L95.9,442.8 L96.4,442.8 L96.9,442.8 L97.4,442.8 L97.9,442.7 L98.4,442.7 L98.9,442.7 L99.4,442.6 L99.9,442.6 L100.4,442.6 L100.9,442.5 L101.4,442.5 L101.9,442.4 L102.4,442.4 L102.9,442.4 L103.4,442.3 L103.9,442.3 L104.4,442.3 L104.9,442.2 L105.4,442.2 L105.9,442.2 L106.4,442.2 L106.9,442.2 L107.4,442.2 L107.9,442.2 L108.4,442.2 L108.9,442.2 L109.4,442.2 L109.9,442.2 L110.4,442.2 L110.9,441.8 L111.4,441.1 L111.9,440.5 L112.4,440.0 L112.9,439.9 L113.4,440.2 L113.9,440.7 L114.4,441.4 L114.9,442.1 L115.4,442.7 L115.9,443.2 L116.4,443.6 L116.9,444.3 L117.2,444.5" fill="none" stroke="#6e6e6e" stroke-width="0.5"/>
<path d="M75.6,444.5 L75.9,444.0 L76.4,443.6 L76.9,443.2 L77.4,443.2 L77.9,443.1 L78.4,443.1 L78.9,443.1 L79.4,443.1 L79.9,443.0 L80.4,443.0 L80.9,443.0 L81.4,443.0 L81.9,443.0 L82.4,443.0 L82.9,443.0 L83.4,443.0 L83.9,443.0 L84.4,443.1 L84.9,443.1 L85.4,443.1 L85.9,443.1 L86.4,443.2 L86.9,443.2 L87.4,443.2 L87.9,443.3 L88.4,443.3 L88.9,443.3 L89.4,443.4 L89.9,443.4 L90.4,443.4 L90.9,443.5 L91.4,443.5 L91.9,443.5 L92.4,443.5 L92.9,443.6 L93.4,443.6 L93.9,443.6 L94.4,443.6 L94.9,443.6 L95.4,443.6 L95.9,443.6 L96.4,443.6 L96.9,443.6 L97.4,443.5 L97.9,443.5 L98.4,443.5 L98.9,443.5 L99.4,443.4 L99.9,443.4 L100.4,443.4 L100.9,443.3 L101.4,443.3 L101.9,443.3 L102.4,443.2 L102.9,443.2 L103.4,443.2 L103.9,443.1 L104.4,443.1 L104.9,443.1 L105.4,443.1 L105.9,443.0 L106.4,443.0 L106.9,443.0 L107.4,443.0 L107.9,443.0 L108.4,443.0 L108.9,443.0 L109.4,443.0 L109.9,443.0 L110.4,443.0 L110.9,443.1 L111.4,443.5 L111.9,443.9 L112.4,444.2 L112.7,444.5 Z" fill="#bcbcbc"/>
<path d="M75.6,444.5 L75.9,444.0 L76.4,443.6 L76.9,443.2 L77.4,443.2 L77.9,443.1 L78.4,443.1 L78.9,443.1 L79.4,443.1 L79.9,443.0 L80.4,443.0 L80.9,443.0 L81.4,443.0 L81.9,443.0 L82.4,443.0 L82.9,443.0 L83.4,443.0 L83.9,443.0 L84.4,443.1 L84.9,443.1 L85.4,443.1 L85.9,443.1 L86.4,443.2 L86.9,443.2 L87.4,443.2 L87.9,443.3 L88.4,443.3 L88.9,443.3 L89.4,443.4 L89.9,443.4 L90.4,443.4 L90.9,443.5 L91.4,443.5 L91.9,443.5 L92.4,443.5 L92.9,443.6 L93.4,443.6 L93.9,443.6 L94.4,443.6 L94.9,443.6 L95.4,443.6 L95.9,443.6 L96.4,443.6 L96.9,443.6 L97.4,443.5 L97.9,443.5 L98.4,443.5 L98.9,443.5 L99.4,443.4 L99.9,443.4 L100.4,443.4 L100.9,443.3 L101.4,443.3 L101.9,443.3 L102.4,443.2 L102.9,443.2 L103.4,443.2 L103.9,443.1 L104.4,443.1 L104.9,443.1 L105.4,443.1 L105.9,443.0 L106.4,443.0 L106.9,443.0 L107.4,443.0 L107.9,443.0 L108.4,443.0 L108.9,443.0 L109.4,443.0 L109.9,443.0 L110.4,443.0 L110.9,443.1 L111.4,443.5 L111.9,443.9 L112.4,444.2 L112.7,444.5" fill="none" stroke="#8a8a8a" stroke-width="0.4"/>
<path d="M70.1,444.5 L70.4,444.4 L70.9,444.2 L71.4,443.8 L71.9,442.9 L72.4,440.5 L72.9,435.2 L73.4,424.9 L73.9,409.2 L74.4,391.0 L74.9,376.7 L75.4,372.7 L75.9,381.1 L76.4,397.7 L76.9,415.4 L77.4,428.9 L77.9,437.1 L78.4,441.2 L78.9,442.9 L79.4,443.7 L79.9,444.1 L80.4,444.3 L80.9,444.4 L81.2,444.5 Z" fill="#606060"/>
<path d="M108.6,444.5 L108.9,444.3 L109.4,444.0 L109.9,443.7 L110.4,443.2 L110.9,442.7 L111.4,442.1 L111.9,441.5 L112.4,441.2 L112.9,441.1 L113.4,441.3 L113.9,441.7 L114.4,442.3 L114.9,442.9 L115.4,443.4 L115.9,443.9 L116.4,444.1 L116.9,444.3 L117.2,444.5 Z" fill="#707070"/>
<polygon points="75.30,445.10 73.90,447.50 76.70,447.50" fill="#222"/>
<polygon points="112.80,445.10 111.40,447.50 114.20,447.50" fill="#222"/>
<rect x="78.20" y="360.80" width="53.60" height="31.00" fill="#fff" stroke="#222" stroke-width="1.1"/>
<text x="80.30" y="369.20" font-size="7.75" text-anchor="start" font-weight="normal" fill="#111" stroke="#111" stroke-width="0.22" >G0/G1=65.8%</text>
<text x="80.30" y="379.50" font-size="7.75" text-anchor="start" font-weight="normal" fill="#111" stroke="#111" stroke-width="0.22" >S=27.3%</text>
<text x="80.30" y="389.70" font-size="7.75" text-anchor="start" font-weight="normal" fill="#111" stroke="#111" stroke-width="0.22" >G2/M=6.9%</text>
<text x="208.20" y="349.00" font-size="8.8" text-anchor="middle" font-weight="normal" fill="#111" stroke="#111" stroke-width="0.22" >wt/wt MLL-AFX+TAM</text>
<line x1="163.70" y1="352.60" x2="251.80" y2="352.60" stroke="#222" stroke-width="1.2" />
<line x1="161.30" y1="361.00" x2="161.30" y2="443.80" stroke="#9a9a9a" stroke-width="0.7" />
<line x1="161.30" y1="443.80" x2="255.40" y2="443.80" stroke="#9a9a9a" stroke-width="0.7" stroke-dasharray="1.2 0.7"/>
<line x1="160.20" y1="443.80" x2="161.30" y2="443.80" stroke="#9a9a9a" stroke-width="0.5" />
<line x1="160.20" y1="439.43" x2="161.30" y2="439.43" stroke="#9a9a9a" stroke-width="0.5" />
<line x1="160.20" y1="435.05" x2="161.30" y2="435.05" stroke="#9a9a9a" stroke-width="0.5" />
<line x1="160.20" y1="430.68" x2="161.30" y2="430.68" stroke="#9a9a9a" stroke-width="0.5" />
<line x1="160.20" y1="426.30" x2="161.30" y2="426.30" stroke="#9a9a9a" stroke-width="0.5" />
<line x1="160.20" y1="421.93" x2="161.30" y2="421.93" stroke="#9a9a9a" stroke-width="0.5" />
<line x1="160.20" y1="417.55" x2="161.30" y2="417.55" stroke="#9a9a9a" stroke-width="0.5" />
<line x1="160.20" y1="413.18" x2="161.30" y2="413.18" stroke="#9a9a9a" stroke-width="0.5" />
<line x1="160.20" y1="408.80" x2="161.30" y2="408.80" stroke="#9a9a9a" stroke-width="0.5" />
<line x1="160.20" y1="404.43" x2="161.30" y2="404.43" stroke="#9a9a9a" stroke-width="0.5" />
<line x1="160.20" y1="400.05" x2="161.30" y2="400.05" stroke="#9a9a9a" stroke-width="0.5" />
<line x1="160.20" y1="395.68" x2="161.30" y2="395.68" stroke="#9a9a9a" stroke-width="0.5" />
<line x1="160.20" y1="391.30" x2="161.30" y2="391.30" stroke="#9a9a9a" stroke-width="0.5" />
<line x1="160.20" y1="386.93" x2="161.30" y2="386.93" stroke="#9a9a9a" stroke-width="0.5" />
<line x1="160.20" y1="382.55" x2="161.30" y2="382.55" stroke="#9a9a9a" stroke-width="0.5" />
<line x1="160.20" y1="378.18" x2="161.30" y2="378.18" stroke="#9a9a9a" stroke-width="0.5" />
<line x1="160.20" y1="373.80" x2="161.30" y2="373.80" stroke="#9a9a9a" stroke-width="0.5" />
<line x1="160.20" y1="369.43" x2="161.30" y2="369.43" stroke="#9a9a9a" stroke-width="0.5" />
<line x1="160.20" y1="365.05" x2="161.30" y2="365.05" stroke="#9a9a9a" stroke-width="0.5" />
<line x1="159.30" y1="373.60" x2="161.30" y2="373.60" stroke="#9a9a9a" stroke-width="0.6" />
<text x="158.50" y="375.80" font-size="6.2" text-anchor="end" font-weight="normal" fill="#333" stroke="#333" stroke-width="0.15" textLength="12.2" lengthAdjust="spacingAndGlyphs">1600</text>
<line x1="159.30" y1="391.10" x2="161.30" y2="391.10" stroke="#9a9a9a" stroke-width="0.6" />
<text x="158.50" y="393.30" font-size="6.2" text-anchor="end" font-weight="normal" fill="#333" stroke="#333" stroke-width="0.15" textLength="12.2" lengthAdjust="spacingAndGlyphs">1200</text>
<line x1="159.30" y1="408.60" x2="161.30" y2="408.60" stroke="#9a9a9a" stroke-width="0.6" />
<text x="158.50" y="410.80" font-size="6.2" text-anchor="end" font-weight="normal" fill="#333" stroke="#333" stroke-width="0.15" textLength="9.1" lengthAdjust="spacingAndGlyphs">800</text>
<line x1="159.30" y1="426.20" x2="161.30" y2="426.20" stroke="#9a9a9a" stroke-width="0.6" />
<text x="158.50" y="428.40" font-size="6.2" text-anchor="end" font-weight="normal" fill="#333" stroke="#333" stroke-width="0.15" textLength="9.1" lengthAdjust="spacingAndGlyphs">400</text>
<line x1="159.30" y1="443.80" x2="161.30" y2="443.80" stroke="#9a9a9a" stroke-width="0.6" />
<text x="158.50" y="446.00" font-size="6.2" text-anchor="end" font-weight="normal" fill="#333" stroke="#333" stroke-width="0.15" textLength="3.0" lengthAdjust="spacingAndGlyphs">0</text>
<text x="178.90" y="451.40" font-size="6.2" text-anchor="middle" font-weight="normal" fill="#333" stroke="#333" stroke-width="0.15" textLength="6.1" lengthAdjust="spacingAndGlyphs">30</text>
<text x="196.80" y="451.40" font-size="6.2" text-anchor="middle" font-weight="normal" fill="#333" stroke="#333" stroke-width="0.15" textLength="6.1" lengthAdjust="spacingAndGlyphs">60</text>
<text x="214.40" y="451.40" font-size="6.2" text-anchor="middle" font-weight="normal" fill="#333" stroke="#333" stroke-width="0.15" textLength="6.1" lengthAdjust="spacingAndGlyphs">90</text>
<text x="233.30" y="451.40" font-size="6.2" text-anchor="middle" font-weight="normal" fill="#333" stroke="#333" stroke-width="0.15" textLength="9.1" lengthAdjust="spacingAndGlyphs">120</text>
<text x="253.90" y="451.40" font-size="6.2" text-anchor="middle" font-weight="normal" fill="#333" stroke="#333" stroke-width="0.15" textLength="9.1" lengthAdjust="spacingAndGlyphs">150</text>
<path d="M195.0,443.8 L195.3,443.6 L195.8,443.5 L196.3,443.2 L196.8,442.6 L197.3,441.0 L197.8,436.7 L198.3,427.2 L198.8,410.7 L199.3,389.6 L199.8,371.8 L200.3,366.8 L200.8,377.5 L201.3,397.6 L201.8,417.4 L202.3,431.0 L202.8,438.1 L203.3,440.6 L203.8,440.5 L204.3,440.5 L204.8,440.5 L205.3,440.5 L205.8,440.5 L206.3,440.5 L206.8,440.5 L207.3,440.5 L207.8,440.5 L208.3,440.5 L208.8,440.5 L209.3,440.6 L209.8,440.6 L210.3,440.6 L210.8,440.7 L211.3,440.7 L211.8,440.7 L212.3,440.8 L212.8,440.8 L213.3,440.9 L213.8,440.9 L214.3,440.9 L214.8,441.0 L215.3,441.0 L215.8,441.1 L216.3,441.1 L216.8,441.1 L217.3,441.1 L217.8,441.2 L218.3,441.2 L218.8,441.2 L219.3,441.2 L219.8,441.2 L220.3,441.2 L220.8,441.2 L221.3,441.1 L221.8,441.1 L222.3,441.1 L222.8,441.1 L223.3,441.0 L223.8,441.0 L224.3,441.0 L224.8,440.9 L225.3,440.9 L225.8,440.9 L226.3,440.8 L226.8,440.8 L227.3,440.7 L227.8,440.7 L228.3,440.7 L228.8,440.6 L229.3,440.6 L229.8,440.6 L230.3,440.6 L230.8,440.6 L231.3,440.6 L231.8,440.6 L232.3,440.6 L232.8,440.6 L233.3,440.6 L233.8,440.6 L234.3,440.6 L234.8,439.7 L235.3,438.6 L235.8,437.7 L236.3,437.1 L236.8,437.0 L237.3,437.5 L237.8,438.4 L238.3,439.5 L238.8,440.6 L239.3,441.5 L239.8,442.2 L240.3,442.7 L240.8,443.5 L241.3,443.7 L241.6,443.8 Z" fill="#dedede"/>
<path d="M195.0,443.8 L195.3,443.6 L195.8,443.5 L196.3,443.2 L196.8,442.6 L197.3,441.0 L197.8,436.7 L198.3,427.2 L198.8,410.7 L199.3,389.6 L199.8,371.8 L200.3,366.8 L200.8,377.5 L201.3,397.6 L201.8,417.4 L202.3,431.0 L202.8,438.1 L203.3,440.6 L203.8,440.5 L204.3,440.5 L204.8,440.5 L205.3,440.5 L205.8,440.5 L206.3,440.5 L206.8,440.5 L207.3,440.5 L207.8,440.5 L208.3,440.5 L208.8,440.5 L209.3,440.6 L209.8,440.6 L210.3,440.6 L210.8,440.7 L211.3,440.7 L211.8,440.7 L212.3,440.8 L212.8,440.8 L213.3,440.9 L213.8,440.9 L214.3,440.9 L214.8,441.0 L215.3,441.0 L215.8,441.1 L216.3,441.1 L216.8,441.1 L217.3,441.1 L217.8,441.2 L218.3,441.2 L218.8,441.2 L219.3,441.2 L219.8,441.2 L220.3,441.2 L220.8,441.2 L221.3,441.1 L221.8,441.1 L222.3,441.1 L222.8,441.1 L223.3,441.0 L223.8,441.0 L224.3,441.0 L224.8,440.9 L225.3,440.9 L225.8,440.9 L226.3,440.8 L226.8,440.8 L227.3,440.7 L227.8,440.7 L228.3,440.7 L228.8,440.6 L229.3,440.6 L229.8,440.6 L230.3,440.6 L230.8,440.6 L231.3,440.6 L231.8,440.6 L232.3,440.6 L232.8,440.6 L233.3,440.6 L233.8,440.6 L234.3,440.6 L234.8,439.7 L235.3,438.6 L235.8,437.7 L236.3,437.1 L236.8,437.0 L237.3,437.5 L237.8,438.4 L238.3,439.5 L238.8,440.6 L239.3,441.5 L239.8,442.2 L240.3,442.7 L240.8,443.5 L241.3,443.7 L241.6,443.8" fill="none" stroke="#6e6e6e" stroke-width="0.5"/>
<path d="M200.0,443.8 L200.3,443.7 L200.8,442.9 L201.3,442.2 L201.8,441.6 L202.3,441.6 L202.8,441.5 L203.3,441.5 L203.8,441.5 L204.3,441.5 L204.8,441.4 L205.3,441.4 L205.8,441.4 L206.3,441.4 L206.8,441.4 L207.3,441.4 L207.8,441.4 L208.3,441.4 L208.8,441.5 L209.3,441.5 L209.8,441.5 L210.3,441.5 L210.8,441.6 L211.3,441.6 L211.8,441.7 L212.3,441.7 L212.8,441.7 L213.3,441.8 L213.8,441.8 L214.3,441.8 L214.8,441.9 L215.3,441.9 L215.8,441.9 L216.3,442.0 L216.8,442.0 L217.3,442.0 L217.8,442.0 L218.3,442.0 L218.8,442.0 L219.3,442.1 L219.8,442.1 L220.3,442.0 L220.8,442.0 L221.3,442.0 L221.8,442.0 L222.3,442.0 L222.8,442.0 L223.3,441.9 L223.8,441.9 L224.3,441.9 L224.8,441.8 L225.3,441.8 L225.8,441.8 L226.3,441.7 L226.8,441.7 L227.3,441.7 L227.8,441.6 L228.3,441.6 L228.8,441.6 L229.3,441.5 L229.8,441.5 L230.3,441.5 L230.8,441.5 L231.3,441.5 L231.8,441.5 L232.3,441.5 L232.8,441.5 L233.3,441.5 L233.8,441.5 L234.3,441.5 L234.8,441.8 L235.3,442.4 L235.8,442.9 L236.3,443.5 L236.6,443.8 Z" fill="#bcbcbc"/>
<path d="M200.0,443.8 L200.3,443.7 L200.8,442.9 L201.3,442.2 L201.8,441.6 L202.3,441.6 L202.8,441.5 L203.3,441.5 L203.8,441.5 L204.3,441.5 L204.8,441.4 L205.3,441.4 L205.8,441.4 L206.3,441.4 L206.8,441.4 L207.3,441.4 L207.8,441.4 L208.3,441.4 L208.8,441.5 L209.3,441.5 L209.8,441.5 L210.3,441.5 L210.8,441.6 L211.3,441.6 L211.8,441.7 L212.3,441.7 L212.8,441.7 L213.3,441.8 L213.8,441.8 L214.3,441.8 L214.8,441.9 L215.3,441.9 L215.8,441.9 L216.3,442.0 L216.8,442.0 L217.3,442.0 L217.8,442.0 L218.3,442.0 L218.8,442.0 L219.3,442.1 L219.8,442.1 L220.3,442.0 L220.8,442.0 L221.3,442.0 L221.8,442.0 L222.3,442.0 L222.8,442.0 L223.3,441.9 L223.8,441.9 L224.3,441.9 L224.8,441.8 L225.3,441.8 L225.8,441.8 L226.3,441.7 L226.8,441.7 L227.3,441.7 L227.8,441.6 L228.3,441.6 L228.8,441.6 L229.3,441.5 L229.8,441.5 L230.3,441.5 L230.8,441.5 L231.3,441.5 L231.8,441.5 L232.3,441.5 L232.8,441.5 L233.3,441.5 L233.8,441.5 L234.3,441.5 L234.8,441.8 L235.3,442.4 L235.8,442.9 L236.3,443.5 L236.6,443.8" fill="none" stroke="#8a8a8a" stroke-width="0.4"/>
<path d="M195.0,443.8 L195.3,443.6 L195.8,443.5 L196.3,443.2 L196.8,442.6 L197.3,441.0 L197.8,436.7 L198.3,427.2 L198.8,410.7 L199.3,389.6 L199.8,371.8 L200.3,366.8 L200.8,377.5 L201.3,397.6 L201.8,417.4 L202.3,431.0 L202.8,438.1 L203.3,441.2 L203.8,442.5 L204.3,443.0 L204.8,443.4 L205.3,443.6 L205.8,443.7 L206.1,443.8 Z" fill="#606060"/>
<path d="M232.0,443.8 L232.3,443.6 L232.8,443.4 L233.3,443.0 L233.8,442.4 L234.3,441.7 L234.8,440.8 L235.3,439.9 L235.8,439.1 L236.3,438.6 L236.8,438.6 L237.3,439.0 L237.8,439.7 L238.3,440.6 L238.8,441.5 L239.3,442.3 L239.8,442.9 L240.3,443.3 L240.8,443.6 L241.1,443.8 Z" fill="#707070"/>
<polygon points="200.20,444.40 198.80,446.80 201.60,446.80" fill="#222"/>
<polygon points="236.60,444.40 235.20,446.80 238.00,446.80" fill="#222"/>
<rect x="204.70" y="360.00" width="54.00" height="33.30" fill="#fff" stroke="#222" stroke-width="1.1"/>
<text x="206.80" y="370.40" font-size="7.75" text-anchor="start" font-weight="normal" fill="#111" stroke="#111" stroke-width="0.22" >G0/G1=57.1%</text>
<text x="206.80" y="380.80" font-size="7.75" text-anchor="start" font-weight="normal" fill="#111" stroke="#111" stroke-width="0.22" >S=33.9%</text>
<text x="206.80" y="391.50" font-size="7.75" text-anchor="start" font-weight="normal" fill="#111" stroke="#111" stroke-width="0.22" >G2/M=9.0%</text>
<text x="340.00" y="349.00" font-size="8.8" text-anchor="middle" font-weight="normal" fill="#111" stroke="#111" stroke-width="0.22" >2l/1l MLL-AFX</text>
<line x1="293.70" y1="352.60" x2="380.90" y2="352.60" stroke="#222" stroke-width="1.2" />
<line x1="289.90" y1="361.00" x2="289.90" y2="444.00" stroke="#9a9a9a" stroke-width="0.7" />
<line x1="289.90" y1="444.00" x2="384.80" y2="444.00" stroke="#9a9a9a" stroke-width="0.7" stroke-dasharray="1.2 0.7"/>
<line x1="288.80" y1="444.00" x2="289.90" y2="444.00" stroke="#9a9a9a" stroke-width="0.5" />
<line x1="288.80" y1="439.95" x2="289.90" y2="439.95" stroke="#9a9a9a" stroke-width="0.5" />
<line x1="288.80" y1="435.90" x2="289.90" y2="435.90" stroke="#9a9a9a" stroke-width="0.5" />
<line x1="288.80" y1="431.85" x2="289.90" y2="431.85" stroke="#9a9a9a" stroke-width="0.5" />
<line x1="288.80" y1="427.80" x2="289.90" y2="427.80" stroke="#9a9a9a" stroke-width="0.5" />
<line x1="288.80" y1="423.75" x2="289.90" y2="423.75" stroke="#9a9a9a" stroke-width="0.5" />
<line x1="288.80" y1="419.70" x2="289.90" y2="419.70" stroke="#9a9a9a" stroke-width="0.5" />
<line x1="288.80" y1="415.65" x2="289.90" y2="415.65" stroke="#9a9a9a" stroke-width="0.5" />
<line x1="288.80" y1="411.60" x2="289.90" y2="411.60" stroke="#9a9a9a" stroke-width="0.5" />
<line x1="288.80" y1="407.55" x2="289.90" y2="407.55" stroke="#9a9a9a" stroke-width="0.5" />
<line x1="288.80" y1="403.50" x2="289.90" y2="403.50" stroke="#9a9a9a" stroke-width="0.5" />
<line x1="288.80" y1="399.45" x2="289.90" y2="399.45" stroke="#9a9a9a" stroke-width="0.5" />
<line x1="288.80" y1="395.40" x2="289.90" y2="395.40" stroke="#9a9a9a" stroke-width="0.5" />
<line x1="288.80" y1="391.35" x2="289.90" y2="391.35" stroke="#9a9a9a" stroke-width="0.5" />
<line x1="288.80" y1="387.30" x2="289.90" y2="387.30" stroke="#9a9a9a" stroke-width="0.5" />
<line x1="288.80" y1="383.25" x2="289.90" y2="383.25" stroke="#9a9a9a" stroke-width="0.5" />
<line x1="288.80" y1="379.20" x2="289.90" y2="379.20" stroke="#9a9a9a" stroke-width="0.5" />
<line x1="288.80" y1="375.15" x2="289.90" y2="375.15" stroke="#9a9a9a" stroke-width="0.5" />
<line x1="288.80" y1="371.10" x2="289.90" y2="371.10" stroke="#9a9a9a" stroke-width="0.5" />
<line x1="288.80" y1="367.05" x2="289.90" y2="367.05" stroke="#9a9a9a" stroke-width="0.5" />
<line x1="288.80" y1="363.00" x2="289.90" y2="363.00" stroke="#9a9a9a" stroke-width="0.5" />
<line x1="287.90" y1="379.40" x2="289.90" y2="379.40" stroke="#9a9a9a" stroke-width="0.6" />
<text x="287.10" y="381.60" font-size="6.2" text-anchor="end" font-weight="normal" fill="#333" stroke="#333" stroke-width="0.15" textLength="12.2" lengthAdjust="spacingAndGlyphs">1200</text>
<line x1="287.90" y1="394.90" x2="289.90" y2="394.90" stroke="#9a9a9a" stroke-width="0.6" />
<text x="287.10" y="397.10" font-size="6.2" text-anchor="end" font-weight="normal" fill="#333" stroke="#333" stroke-width="0.15" textLength="9.1" lengthAdjust="spacingAndGlyphs">900</text>
<line x1="287.90" y1="410.90" x2="289.90" y2="410.90" stroke="#9a9a9a" stroke-width="0.6" />
<text x="287.10" y="413.10" font-size="6.2" text-anchor="end" font-weight="normal" fill="#333" stroke="#333" stroke-width="0.15" textLength="9.1" lengthAdjust="spacingAndGlyphs">600</text>
<line x1="287.90" y1="427.70" x2="289.90" y2="427.70" stroke="#9a9a9a" stroke-width="0.6" />
<text x="287.10" y="429.90" font-size="6.2" text-anchor="end" font-weight="normal" fill="#333" stroke="#333" stroke-width="0.15" textLength="9.1" lengthAdjust="spacingAndGlyphs">300</text>
<line x1="287.90" y1="444.00" x2="289.90" y2="444.00" stroke="#9a9a9a" stroke-width="0.6" />
<text x="287.10" y="446.20" font-size="6.2" text-anchor="end" font-weight="normal" fill="#333" stroke="#333" stroke-width="0.15" textLength="3.0" lengthAdjust="spacingAndGlyphs">0</text>
<text x="309.30" y="451.60" font-size="6.2" text-anchor="middle" font-weight="normal" fill="#333" stroke="#333" stroke-width="0.15" textLength="6.1" lengthAdjust="spacingAndGlyphs">30</text>
<text x="326.30" y="451.60" font-size="6.2" text-anchor="middle" font-weight="normal" fill="#333" stroke="#333" stroke-width="0.15" textLength="6.1" lengthAdjust="spacingAndGlyphs">60</text>
<text x="347.20" y="451.60" font-size="6.2" text-anchor="middle" font-weight="normal" fill="#333" stroke="#333" stroke-width="0.15" textLength="6.1" lengthAdjust="spacingAndGlyphs">90</text>
<text x="365.00" y="451.60" font-size="6.2" text-anchor="middle" font-weight="normal" fill="#333" stroke="#333" stroke-width="0.15" textLength="9.1" lengthAdjust="spacingAndGlyphs">120</text>
<text x="383.90" y="451.60" font-size="6.2" text-anchor="middle" font-weight="normal" fill="#333" stroke="#333" stroke-width="0.15" textLength="9.1" lengthAdjust="spacingAndGlyphs">150</text>
<path d="M323.1,444.0 L323.4,443.9 L323.9,443.7 L324.4,443.5 L324.9,442.9 L325.4,441.4 L325.9,437.4 L326.4,428.7 L326.9,413.4 L327.4,393.9 L327.9,377.4 L328.4,372.8 L328.9,382.7 L329.4,401.3 L329.9,419.6 L330.4,432.2 L330.9,438.8 L331.4,440.3 L331.9,440.3 L332.4,440.3 L332.9,440.2 L333.4,440.2 L333.9,440.2 L334.4,440.2 L334.9,440.2 L335.4,440.2 L335.9,440.2 L336.4,440.3 L336.9,440.3 L337.4,440.3 L337.9,440.3 L338.4,440.4 L338.9,440.4 L339.4,440.4 L339.9,440.5 L340.4,440.5 L340.9,440.6 L341.4,440.6 L341.9,440.6 L342.4,440.7 L342.9,440.7 L343.4,440.8 L343.9,440.8 L344.4,440.8 L344.9,440.8 L345.4,440.9 L345.9,440.9 L346.4,440.9 L346.9,440.9 L347.4,440.9 L347.9,440.9 L348.4,440.9 L348.9,440.8 L349.4,440.8 L349.9,440.8 L350.4,440.8 L350.9,440.7 L351.4,440.7 L351.9,440.7 L352.4,440.6 L352.9,440.6 L353.4,440.5 L353.9,440.5 L354.4,440.4 L354.9,440.4 L355.4,440.4 L355.9,440.3 L356.4,440.3 L356.9,440.3 L357.4,440.3 L357.9,440.2 L358.4,440.2 L358.9,440.2 L359.4,440.2 L359.9,440.2 L360.4,440.2 L360.9,440.2 L361.4,440.3 L361.9,439.6 L362.4,438.2 L362.9,436.9 L363.4,436.0 L363.9,435.7 L364.4,436.0 L364.9,436.9 L365.4,438.2 L365.9,439.6 L366.4,440.9 L366.9,441.9 L367.4,442.6 L367.9,443.0 L368.4,443.8 L368.7,444.0 Z" fill="#dedede"/>
<path d="M323.1,444.0 L323.4,443.9 L323.9,443.7 L324.4,443.5 L324.9,442.9 L325.4,441.4 L325.9,437.4 L326.4,428.7 L326.9,413.4 L327.4,393.9 L327.9,377.4 L328.4,372.8 L328.9,382.7 L329.4,401.3 L329.9,419.6 L330.4,432.2 L330.9,438.8 L331.4,440.3 L331.9,440.3 L332.4,440.3 L332.9,440.2 L333.4,440.2 L333.9,440.2 L334.4,440.2 L334.9,440.2 L335.4,440.2 L335.9,440.2 L336.4,440.3 L336.9,440.3 L337.4,440.3 L337.9,440.3 L338.4,440.4 L338.9,440.4 L339.4,440.4 L339.9,440.5 L340.4,440.5 L340.9,440.6 L341.4,440.6 L341.9,440.6 L342.4,440.7 L342.9,440.7 L343.4,440.8 L343.9,440.8 L344.4,440.8 L344.9,440.8 L345.4,440.9 L345.9,440.9 L346.4,440.9 L346.9,440.9 L347.4,440.9 L347.9,440.9 L348.4,440.9 L348.9,440.8 L349.4,440.8 L349.9,440.8 L350.4,440.8 L350.9,440.7 L351.4,440.7 L351.9,440.7 L352.4,440.6 L352.9,440.6 L353.4,440.5 L353.9,440.5 L354.4,440.4 L354.9,440.4 L355.4,440.4 L355.9,440.3 L356.4,440.3 L356.9,440.3 L357.4,440.3 L357.9,440.2 L358.4,440.2 L358.9,440.2 L359.4,440.2 L359.9,440.2 L360.4,440.2 L360.9,440.2 L361.4,440.3 L361.9,439.6 L362.4,438.2 L362.9,436.9 L363.4,436.0 L363.9,435.7 L364.4,436.0 L364.9,436.9 L365.4,438.2 L365.9,439.6 L366.4,440.9 L366.9,441.9 L367.4,442.6 L367.9,443.0 L368.4,443.8 L368.7,444.0" fill="none" stroke="#6e6e6e" stroke-width="0.5"/>
<path d="M328.1,444.0 L328.4,443.8 L328.9,443.0 L329.4,442.1 L329.9,441.4 L330.4,441.3 L330.9,441.3 L331.4,441.3 L331.9,441.3 L332.4,441.2 L332.9,441.2 L333.4,441.2 L333.9,441.2 L334.4,441.2 L334.9,441.2 L335.4,441.2 L335.9,441.2 L336.4,441.2 L336.9,441.3 L337.4,441.3 L337.9,441.3 L338.4,441.3 L338.9,441.4 L339.4,441.4 L339.9,441.4 L340.4,441.5 L340.9,441.5 L341.4,441.6 L341.9,441.6 L342.4,441.6 L342.9,441.7 L343.4,441.7 L343.9,441.7 L344.4,441.7 L344.9,441.8 L345.4,441.8 L345.9,441.8 L346.4,441.8 L346.9,441.8 L347.4,441.8 L347.9,441.8 L348.4,441.8 L348.9,441.8 L349.4,441.7 L349.9,441.7 L350.4,441.7 L350.9,441.7 L351.4,441.6 L351.9,441.6 L352.4,441.6 L352.9,441.5 L353.4,441.5 L353.9,441.4 L354.4,441.4 L354.9,441.4 L355.4,441.3 L355.9,441.3 L356.4,441.3 L356.9,441.3 L357.4,441.2 L357.9,441.2 L358.4,441.2 L358.9,441.2 L359.4,441.2 L359.9,441.2 L360.4,441.2 L360.9,441.2 L361.4,441.2 L361.9,441.3 L362.4,442.0 L362.9,442.7 L363.4,443.3 L363.7,444.0 Z" fill="#bcbcbc"/>
<path d="M328.1,444.0 L328.4,443.8 L328.9,443.0 L329.4,442.1 L329.9,441.4 L330.4,441.3 L330.9,441.3 L331.4,441.3 L331.9,441.3 L332.4,441.2 L332.9,441.2 L333.4,441.2 L333.9,441.2 L334.4,441.2 L334.9,441.2 L335.4,441.2 L335.9,441.2 L336.4,441.2 L336.9,441.3 L337.4,441.3 L337.9,441.3 L338.4,441.3 L338.9,441.4 L339.4,441.4 L339.9,441.4 L340.4,441.5 L340.9,441.5 L341.4,441.6 L341.9,441.6 L342.4,441.6 L342.9,441.7 L343.4,441.7 L343.9,441.7 L344.4,441.7 L344.9,441.8 L345.4,441.8 L345.9,441.8 L346.4,441.8 L346.9,441.8 L347.4,441.8 L347.9,441.8 L348.4,441.8 L348.9,441.8 L349.4,441.7 L349.9,441.7 L350.4,441.7 L350.9,441.7 L351.4,441.6 L351.9,441.6 L352.4,441.6 L352.9,441.5 L353.4,441.5 L353.9,441.4 L354.4,441.4 L354.9,441.4 L355.4,441.3 L355.9,441.3 L356.4,441.3 L356.9,441.3 L357.4,441.2 L357.9,441.2 L358.4,441.2 L358.9,441.2 L359.4,441.2 L359.9,441.2 L360.4,441.2 L360.9,441.2 L361.4,441.2 L361.9,441.3 L362.4,442.0 L362.9,442.7 L363.4,443.3 L363.7,444.0" fill="none" stroke="#8a8a8a" stroke-width="0.4"/>
<path d="M323.1,444.0 L323.4,443.9 L323.9,443.7 L324.4,443.5 L324.9,442.9 L325.4,441.4 L325.9,437.4 L326.4,428.7 L326.9,413.4 L327.4,393.9 L327.9,377.4 L328.4,372.8 L328.9,382.7 L329.4,401.3 L329.9,419.6 L330.4,432.2 L330.9,438.8 L331.4,441.6 L331.9,442.8 L332.4,443.3 L332.9,443.6 L333.4,443.8 L333.9,443.9 L334.2,444.0 Z" fill="#606060"/>
<path d="M359.1,444.0 L359.4,443.8 L359.9,443.6 L360.4,443.2 L360.9,442.6 L361.4,441.8 L361.9,440.7 L362.4,439.6 L362.9,438.5 L363.4,437.8 L363.9,437.5 L364.4,437.8 L364.9,438.5 L365.4,439.6 L365.9,440.7 L366.4,441.8 L366.9,442.6 L367.4,443.2 L367.9,443.6 L368.4,443.8 L368.7,444.0 Z" fill="#707070"/>
<polygon points="328.30,444.60 326.90,447.00 329.70,447.00" fill="#222"/>
<polygon points="363.90,444.60 362.50,447.00 365.30,447.00" fill="#222"/>
<rect x="330.80" y="359.60" width="53.90" height="31.20" fill="#fff" stroke="#222" stroke-width="1.1"/>
<text x="332.80" y="369.00" font-size="7.75" text-anchor="start" font-weight="normal" fill="#111" stroke="#111" stroke-width="0.22" >G0/G1=53.4%</text>
<text x="332.80" y="378.80" font-size="7.75" text-anchor="start" font-weight="normal" fill="#111" stroke="#111" stroke-width="0.22" >S=35.4%</text>
<text x="332.80" y="388.80" font-size="7.75" text-anchor="start" font-weight="normal" fill="#111" stroke="#111" stroke-width="0.22" >G2/M=11.2%</text>
<text x="462.00" y="349.00" font-size="8.8" text-anchor="middle" font-weight="normal" fill="#111" stroke="#111" stroke-width="0.22" >2l/1l MLL-AFX+TAM</text>
<line x1="420.30" y1="352.60" x2="506.90" y2="352.60" stroke="#222" stroke-width="1.2" />
<line x1="415.20" y1="361.00" x2="415.20" y2="443.00" stroke="#9a9a9a" stroke-width="0.7" />
<line x1="415.20" y1="443.00" x2="509.90" y2="443.00" stroke="#9a9a9a" stroke-width="0.7" stroke-dasharray="1.2 0.7"/>
<line x1="414.10" y1="443.00" x2="415.20" y2="443.00" stroke="#9a9a9a" stroke-width="0.5" />
<line x1="414.10" y1="438.95" x2="415.20" y2="438.95" stroke="#9a9a9a" stroke-width="0.5" />
<line x1="414.10" y1="434.90" x2="415.20" y2="434.90" stroke="#9a9a9a" stroke-width="0.5" />
<line x1="414.10" y1="430.85" x2="415.20" y2="430.85" stroke="#9a9a9a" stroke-width="0.5" />
<line x1="414.10" y1="426.80" x2="415.20" y2="426.80" stroke="#9a9a9a" stroke-width="0.5" />
<line x1="414.10" y1="422.75" x2="415.20" y2="422.75" stroke="#9a9a9a" stroke-width="0.5" />
<line x1="414.10" y1="418.70" x2="415.20" y2="418.70" stroke="#9a9a9a" stroke-width="0.5" />
<line x1="414.10" y1="414.65" x2="415.20" y2="414.65" stroke="#9a9a9a" stroke-width="0.5" />
<line x1="414.10" y1="410.60" x2="415.20" y2="410.60" stroke="#9a9a9a" stroke-width="0.5" />
<line x1="414.10" y1="406.55" x2="415.20" y2="406.55" stroke="#9a9a9a" stroke-width="0.5" />
<line x1="414.10" y1="402.50" x2="415.20" y2="402.50" stroke="#9a9a9a" stroke-width="0.5" />
<line x1="414.10" y1="398.45" x2="415.20" y2="398.45" stroke="#9a9a9a" stroke-width="0.5" />
<line x1="414.10" y1="394.40" x2="415.20" y2="394.40" stroke="#9a9a9a" stroke-width="0.5" />
<line x1="414.10" y1="390.35" x2="415.20" y2="390.35" stroke="#9a9a9a" stroke-width="0.5" />
<line x1="414.10" y1="386.30" x2="415.20" y2="386.30" stroke="#9a9a9a" stroke-width="0.5" />
<line x1="414.10" y1="382.25" x2="415.20" y2="382.25" stroke="#9a9a9a" stroke-width="0.5" />
<line x1="414.10" y1="378.20" x2="415.20" y2="378.20" stroke="#9a9a9a" stroke-width="0.5" />
<line x1="414.10" y1="374.15" x2="415.20" y2="374.15" stroke="#9a9a9a" stroke-width="0.5" />
<line x1="414.10" y1="370.10" x2="415.20" y2="370.10" stroke="#9a9a9a" stroke-width="0.5" />
<line x1="414.10" y1="366.05" x2="415.20" y2="366.05" stroke="#9a9a9a" stroke-width="0.5" />
<line x1="414.10" y1="362.00" x2="415.20" y2="362.00" stroke="#9a9a9a" stroke-width="0.5" />
<line x1="413.20" y1="376.40" x2="415.20" y2="376.40" stroke="#9a9a9a" stroke-width="0.6" />
<text x="412.40" y="378.60" font-size="6.2" text-anchor="end" font-weight="normal" fill="#333" stroke="#333" stroke-width="0.15" textLength="9.1" lengthAdjust="spacingAndGlyphs">800</text>
<line x1="413.20" y1="393.00" x2="415.20" y2="393.00" stroke="#9a9a9a" stroke-width="0.6" />
<text x="412.40" y="395.20" font-size="6.2" text-anchor="end" font-weight="normal" fill="#333" stroke="#333" stroke-width="0.15" textLength="9.1" lengthAdjust="spacingAndGlyphs">600</text>
<line x1="413.20" y1="409.70" x2="415.20" y2="409.70" stroke="#9a9a9a" stroke-width="0.6" />
<text x="412.40" y="411.90" font-size="6.2" text-anchor="end" font-weight="normal" fill="#333" stroke="#333" stroke-width="0.15" textLength="9.1" lengthAdjust="spacingAndGlyphs">400</text>
<line x1="413.20" y1="426.30" x2="415.20" y2="426.30" stroke="#9a9a9a" stroke-width="0.6" />
<text x="412.40" y="428.50" font-size="6.2" text-anchor="end" font-weight="normal" fill="#333" stroke="#333" stroke-width="0.15" textLength="9.1" lengthAdjust="spacingAndGlyphs">200</text>
<line x1="413.20" y1="443.00" x2="415.20" y2="443.00" stroke="#9a9a9a" stroke-width="0.6" />
<text x="412.40" y="445.20" font-size="6.2" text-anchor="end" font-weight="normal" fill="#333" stroke="#333" stroke-width="0.15" textLength="3.0" lengthAdjust="spacingAndGlyphs">0</text>
<text x="433.70" y="450.60" font-size="6.2" text-anchor="middle" font-weight="normal" fill="#333" stroke="#333" stroke-width="0.15" textLength="6.1" lengthAdjust="spacingAndGlyphs">30</text>
<text x="452.50" y="450.60" font-size="6.2" text-anchor="middle" font-weight="normal" fill="#333" stroke="#333" stroke-width="0.15" textLength="6.1" lengthAdjust="spacingAndGlyphs">60</text>
<text x="472.50" y="450.60" font-size="6.2" text-anchor="middle" font-weight="normal" fill="#333" stroke="#333" stroke-width="0.15" textLength="6.1" lengthAdjust="spacingAndGlyphs">90</text>
<text x="491.00" y="450.60" font-size="6.2" text-anchor="middle" font-weight="normal" fill="#333" stroke="#333" stroke-width="0.15" textLength="9.1" lengthAdjust="spacingAndGlyphs">120</text>
<text x="509.00" y="450.60" font-size="6.2" text-anchor="middle" font-weight="normal" fill="#333" stroke="#333" stroke-width="0.15" textLength="9.1" lengthAdjust="spacingAndGlyphs">150</text>
<path d="M449.9,443.0 L450.2,442.8 L450.7,442.6 L451.2,442.1 L451.7,440.8 L452.2,437.5 L452.7,430.3 L453.2,416.7 L453.7,396.2 L454.2,371.8 L454.7,361.0 L455.2,361.0 L455.7,361.0 L456.2,371.2 L456.7,395.3 L457.2,415.8 L457.7,429.4 L458.2,436.8 L458.7,436.8 L459.2,436.8 L459.7,436.8 L460.2,436.8 L460.7,436.8 L461.2,436.8 L461.7,436.8 L462.2,436.8 L462.7,436.8 L463.2,436.8 L463.7,436.8 L464.2,436.8 L464.7,436.9 L465.2,436.9 L465.7,436.9 L466.2,437.0 L466.7,437.0 L467.2,437.1 L467.7,437.1 L468.2,437.2 L468.7,437.2 L469.2,437.3 L469.7,437.3 L470.2,437.3 L470.7,437.4 L471.2,437.4 L471.7,437.5 L472.2,437.5 L472.7,437.5 L473.2,437.5 L473.7,437.6 L474.2,437.6 L474.7,437.6 L475.2,437.6 L475.7,437.6 L476.2,437.6 L476.7,437.6 L477.2,437.6 L477.7,437.5 L478.2,437.5 L478.7,437.5 L479.2,437.5 L479.7,437.4 L480.2,437.4 L480.7,437.4 L481.2,437.3 L481.7,437.3 L482.2,437.3 L482.7,437.2 L483.2,437.2 L483.7,437.2 L484.2,437.2 L484.7,437.1 L485.2,437.1 L485.7,437.1 L486.2,437.1 L486.7,437.1 L487.2,437.1 L487.7,437.1 L488.2,437.1 L488.7,437.1 L489.2,437.1 L489.7,437.1 L490.2,437.1 L490.7,436.9 L491.2,434.8 L491.7,432.8 L492.2,431.2 L492.7,430.5 L493.2,430.8 L493.7,432.1 L494.2,434.0 L494.7,436.1 L495.2,438.1 L495.7,439.7 L496.2,440.9 L496.7,441.6 L497.2,442.1 L497.7,442.8 L498.0,443.0 Z" fill="#dedede"/>
<path d="M449.9,443.0 L450.2,442.8 L450.7,442.6 L451.2,442.1 L451.7,440.8 L452.2,437.5 L452.7,430.3 L453.2,416.7 L453.7,396.2 L454.2,371.8 L454.7,361.0 L455.2,361.0 L455.7,361.0 L456.2,371.2 L456.7,395.3 L457.2,415.8 L457.7,429.4 L458.2,436.8 L458.7,436.8 L459.2,436.8 L459.7,436.8 L460.2,436.8 L460.7,436.8 L461.2,436.8 L461.7,436.8 L462.2,436.8 L462.7,436.8 L463.2,436.8 L463.7,436.8 L464.2,436.8 L464.7,436.9 L465.2,436.9 L465.7,436.9 L466.2,437.0 L466.7,437.0 L467.2,437.1 L467.7,437.1 L468.2,437.2 L468.7,437.2 L469.2,437.3 L469.7,437.3 L470.2,437.3 L470.7,437.4 L471.2,437.4 L471.7,437.5 L472.2,437.5 L472.7,437.5 L473.2,437.5 L473.7,437.6 L474.2,437.6 L474.7,437.6 L475.2,437.6 L475.7,437.6 L476.2,437.6 L476.7,437.6 L477.2,437.6 L477.7,437.5 L478.2,437.5 L478.7,437.5 L479.2,437.5 L479.7,437.4 L480.2,437.4 L480.7,437.4 L481.2,437.3 L481.7,437.3 L482.2,437.3 L482.7,437.2 L483.2,437.2 L483.7,437.2 L484.2,437.2 L484.7,437.1 L485.2,437.1 L485.7,437.1 L486.2,437.1 L486.7,437.1 L487.2,437.1 L487.7,437.1 L488.2,437.1 L488.7,437.1 L489.2,437.1 L489.7,437.1 L490.2,437.1 L490.7,436.9 L491.2,434.8 L491.7,432.8 L492.2,431.2 L492.7,430.5 L493.2,430.8 L493.7,432.1 L494.2,434.0 L494.7,436.1 L495.2,438.1 L495.7,439.7 L496.2,440.9 L496.7,441.6 L497.2,442.1 L497.7,442.8 L498.0,443.0" fill="none" stroke="#6e6e6e" stroke-width="0.5"/>
<path d="M455.4,443.0 L455.7,441.4 L456.2,439.8 L456.7,438.1 L457.2,438.1 L457.7,438.1 L458.2,438.0 L458.7,438.0 L459.2,438.0 L459.7,438.0 L460.2,438.0 L460.7,438.0 L461.2,438.0 L461.7,438.0 L462.2,438.0 L462.7,438.0 L463.2,438.0 L463.7,438.0 L464.2,438.0 L464.7,438.1 L465.2,438.1 L465.7,438.1 L466.2,438.2 L466.7,438.2 L467.2,438.2 L467.7,438.3 L468.2,438.3 L468.7,438.4 L469.2,438.4 L469.7,438.5 L470.2,438.5 L470.7,438.5 L471.2,438.6 L471.7,438.6 L472.2,438.6 L472.7,438.6 L473.2,438.7 L473.7,438.7 L474.2,438.7 L474.7,438.7 L475.2,438.7 L475.7,438.7 L476.2,438.7 L476.7,438.7 L477.2,438.7 L477.7,438.7 L478.2,438.7 L478.7,438.6 L479.2,438.6 L479.7,438.6 L480.2,438.6 L480.7,438.5 L481.2,438.5 L481.7,438.5 L482.2,438.4 L482.7,438.4 L483.2,438.4 L483.7,438.3 L484.2,438.3 L484.7,438.3 L485.2,438.3 L485.7,438.3 L486.2,438.3 L486.7,438.2 L487.2,438.2 L487.7,438.2 L488.2,438.3 L488.7,438.3 L489.2,438.3 L489.7,438.3 L490.2,438.3 L490.7,438.3 L491.2,439.3 L491.7,440.5 L492.2,441.6 L492.7,442.8 L493.0,443.0 Z" fill="#bcbcbc"/>
<path d="M455.4,443.0 L455.7,441.4 L456.2,439.8 L456.7,438.1 L457.2,438.1 L457.7,438.1 L458.2,438.0 L458.7,438.0 L459.2,438.0 L459.7,438.0 L460.2,438.0 L460.7,438.0 L461.2,438.0 L461.7,438.0 L462.2,438.0 L462.7,438.0 L463.2,438.0 L463.7,438.0 L464.2,438.0 L464.7,438.1 L465.2,438.1 L465.7,438.1 L466.2,438.2 L466.7,438.2 L467.2,438.2 L467.7,438.3 L468.2,438.3 L468.7,438.4 L469.2,438.4 L469.7,438.5 L470.2,438.5 L470.7,438.5 L471.2,438.6 L471.7,438.6 L472.2,438.6 L472.7,438.6 L473.2,438.7 L473.7,438.7 L474.2,438.7 L474.7,438.7 L475.2,438.7 L475.7,438.7 L476.2,438.7 L476.7,438.7 L477.2,438.7 L477.7,438.7 L478.2,438.7 L478.7,438.6 L479.2,438.6 L479.7,438.6 L480.2,438.6 L480.7,438.5 L481.2,438.5 L481.7,438.5 L482.2,438.4 L482.7,438.4 L483.2,438.4 L483.7,438.3 L484.2,438.3 L484.7,438.3 L485.2,438.3 L485.7,438.3 L486.2,438.3 L486.7,438.2 L487.2,438.2 L487.7,438.2 L488.2,438.3 L488.7,438.3 L489.2,438.3 L489.7,438.3 L490.2,438.3 L490.7,438.3 L491.2,439.3 L491.7,440.5 L492.2,441.6 L492.7,442.8 L493.0,443.0" fill="none" stroke="#8a8a8a" stroke-width="0.4"/>
<path d="M449.9,443.0 L450.2,442.8 L450.7,442.6 L451.2,442.1 L451.7,440.8 L452.2,437.5 L452.7,430.3 L453.2,416.7 L453.7,396.2 L454.2,371.8 L454.7,361.0 L455.2,361.0 L455.7,361.0 L456.2,371.2 L456.7,395.3 L457.2,415.8 L457.7,429.4 L458.2,436.8 L458.7,440.3 L459.2,441.7 L459.7,442.4 L460.2,442.7 L460.7,442.8 L461.0,443.0 Z" fill="#606060"/>
<path d="M487.9,443.0 L488.2,442.7 L488.7,442.5 L489.2,441.9 L489.7,441.1 L490.2,439.9 L490.7,438.3 L491.2,436.6 L491.7,434.9 L492.2,433.6 L492.7,433.0 L493.2,433.3 L493.7,434.3 L494.2,435.9 L494.7,437.6 L495.2,439.3 L495.7,440.7 L496.2,441.6 L496.7,442.3 L497.2,442.6 L497.7,442.8 L498.0,443.0 Z" fill="#707070"/>
<polygon points="455.20,443.60 453.80,446.00 456.60,446.00" fill="#222"/>
<polygon points="492.80,443.60 491.40,446.00 494.20,446.00" fill="#222"/>
<rect x="456.60" y="360.00" width="53.40" height="31.20" fill="#fff" stroke="#222" stroke-width="1.1"/>
<text x="458.80" y="368.50" font-size="7.75" text-anchor="start" font-weight="normal" fill="#111" stroke="#111" stroke-width="0.22" >G0/G1=45.0%</text>
<text x="458.80" y="378.80" font-size="7.75" text-anchor="start" font-weight="normal" fill="#111" stroke="#111" stroke-width="0.22" >S=43.9%</text>
<text x="458.80" y="388.80" font-size="7.75" text-anchor="start" font-weight="normal" fill="#111" stroke="#111" stroke-width="0.22" >G2/M=11.1%</text>
<text transform="translate(16.7,293.80) rotate(-90)" font-size="7.9" fill="#111" stroke="#111" stroke-width="0.3">Number</text>
<path d="M14.4,297.00 L14.4,313.80 L31,313.80" fill="none" stroke="#111" stroke-width="1.1"/>
<path d="M12.2,298.40 L14.4,295.00 L16.6,298.40 L14.4,297.40 Z" fill="#111"/>
<path d="M29.8,311.60 L33.2,313.80 L29.8,316.00 L30.8,313.80 Z" fill="#111"/>
<text x="36.20" y="317.80" font-size="7.9" text-anchor="start" font-weight="normal" fill="#111" stroke="#111" stroke-width="0.22" >PI (Area)</text>
<text transform="translate(16.7,438.90) rotate(-90)" font-size="7.9" fill="#111" stroke="#111" stroke-width="0.3">Number</text>
<path d="M14.4,442.10 L14.4,458.90 L31,458.90" fill="none" stroke="#111" stroke-width="1.1"/>
<path d="M12.2,443.50 L14.4,440.10 L16.6,443.50 L14.4,442.50 Z" fill="#111"/>
<path d="M29.8,456.70 L33.2,458.90 L29.8,461.10 L30.8,458.90 Z" fill="#111"/>
<text x="36.20" y="462.90" font-size="7.9" text-anchor="start" font-weight="normal" fill="#111" stroke="#111" stroke-width="0.22" >PI (Area)</text>
</svg>
</body></html>
